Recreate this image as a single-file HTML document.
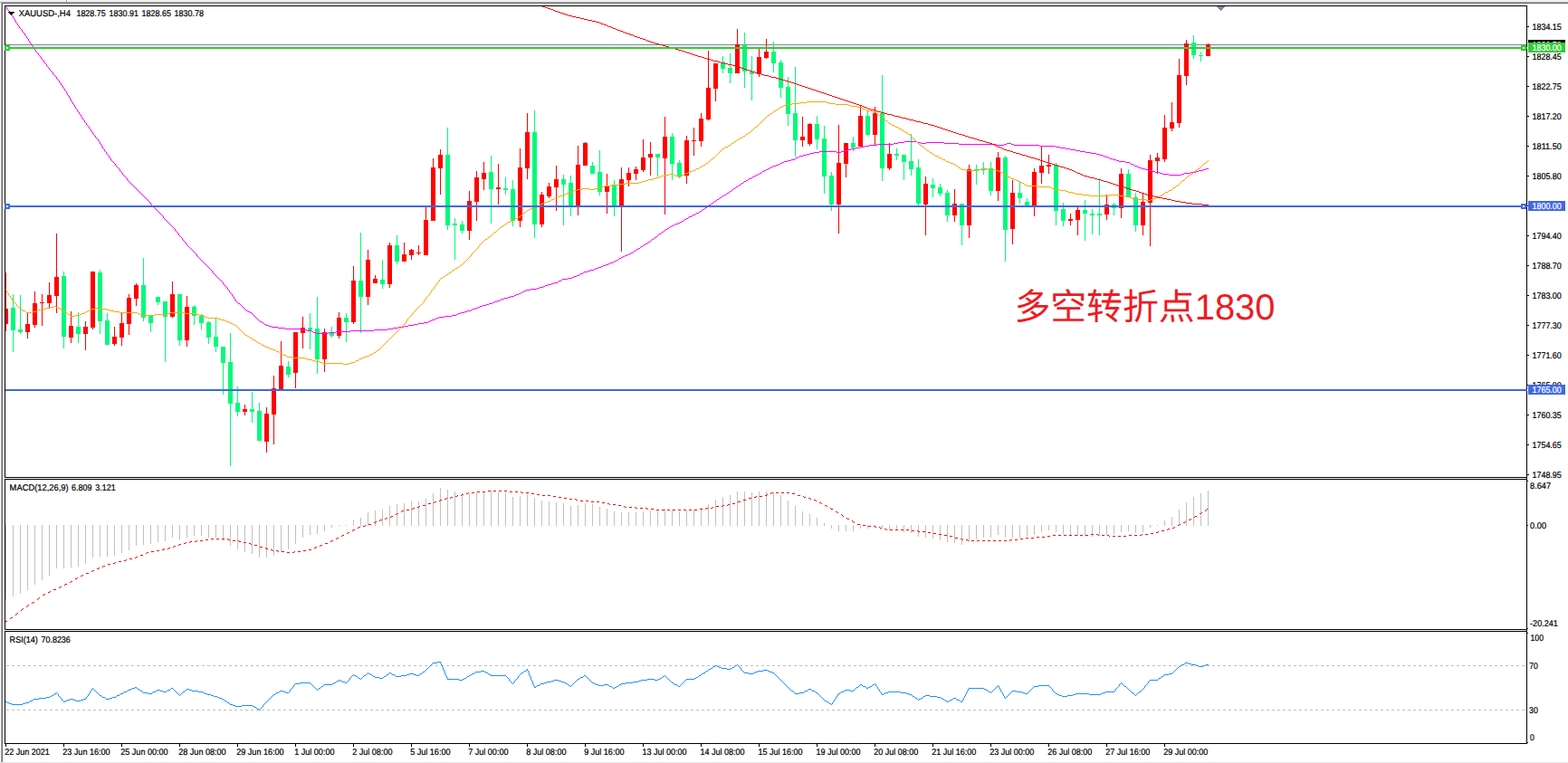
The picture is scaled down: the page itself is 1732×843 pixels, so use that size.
<!DOCTYPE html>
<html><head><meta charset="utf-8"><title>XAUUSD H4</title>
<style>html,body{margin:0;padding:0;background:#fff;overflow:hidden}svg{display:block}text{font-family:"Liberation Sans",sans-serif;font-size:9.8px;fill:#000;stroke:#000;stroke-width:0.22px;text-rendering:geometricPrecision}</style>
</head><body>
<svg width="1732" height="843" viewBox="0 0 1732 843">
<rect x="0" y="0" width="1732" height="843" fill="#fff"/>
<g shape-rendering="crispEdges">
<rect x="0" y="0" width="1732" height="2" fill="#f0f0f0"/>
<rect x="0" y="2" width="1732" height="1" fill="#a8a8a8"/>
<rect x="2" y="3" width="1730" height="1" fill="#696969"/>
<rect x="73" y="0" width="1" height="2" fill="#a0a0a0"/>
<rect x="74" y="0" width="1" height="2" fill="#ffffff"/>
<rect x="0" y="3" width="1" height="839" fill="#fcfcfc"/>
<rect x="1" y="3" width="1" height="839" fill="#a8a8a8"/>
<rect x="2" y="3" width="1" height="839" fill="#696969"/>
<rect x="0" y="842" width="1732" height="1" fill="#e6e6e6"/>
<rect x="5" y="6" width="1682" height="1" fill="#000"/>
<rect x="5" y="6" width="1" height="522" fill="#000"/>
<rect x="5" y="527" width="1682" height="1" fill="#000"/>
<rect x="1686" y="6" width="1" height="816" fill="#000"/>
<rect x="5" y="529" width="1682" height="1" fill="#000"/>
<rect x="5" y="529" width="1" height="167" fill="#000"/>
<rect x="5" y="695" width="1682" height="1" fill="#000"/>
<rect x="5" y="697" width="1682" height="1" fill="#000"/>
<rect x="5" y="697" width="1" height="125" fill="#000"/>
<rect x="5" y="821" width="1682" height="1" fill="#000"/>
</g>
<defs><clipPath id="cm"><rect x="6" y="7" width="1681" height="520"/></clipPath><clipPath id="cd"><rect x="6" y="530" width="1680" height="165"/></clipPath><clipPath id="cr"><rect x="6" y="698" width="1680" height="123"/></clipPath></defs>
<g clip-path="url(#cm)" shape-rendering="crispEdges">
<rect x="6" y="49" width="1680" height="1" fill="#778899"/>
<rect x="6" y="301" width="1" height="65" fill="#ff0000"/>
<rect x="4" y="341" width="5" height="17" fill="#ff0000"/>
<rect x="14" y="325" width="1" height="64" fill="#00fa7a"/>
<rect x="12" y="340" width="5" height="25" fill="#00fa7a"/>
<rect x="22" y="326" width="1" height="43" fill="#00fa7a"/>
<rect x="20" y="364" width="5" height="3" fill="#00fa7a"/>
<rect x="30" y="346" width="1" height="28" fill="#ff0000"/>
<rect x="28" y="358" width="5" height="9" fill="#ff0000"/>
<rect x="38" y="322" width="1" height="40" fill="#ff0000"/>
<rect x="36" y="335" width="5" height="24" fill="#ff0000"/>
<rect x="46" y="325" width="1" height="35" fill="#ff0000"/>
<rect x="44" y="334" width="5" height="1" fill="#ff0000"/>
<rect x="54" y="312" width="1" height="28" fill="#ff0000"/>
<rect x="52" y="326" width="5" height="9" fill="#ff0000"/>
<rect x="62" y="258" width="1" height="88" fill="#ff0000"/>
<rect x="60" y="306" width="5" height="21" fill="#ff0000"/>
<rect x="70" y="300" width="1" height="85" fill="#00fa7a"/>
<rect x="68" y="305" width="5" height="67" fill="#00fa7a"/>
<rect x="78" y="344" width="1" height="35" fill="#ff0000"/>
<rect x="76" y="360" width="5" height="13" fill="#ff0000"/>
<rect x="86" y="345" width="1" height="34" fill="#00fa7a"/>
<rect x="84" y="361" width="5" height="8" fill="#00fa7a"/>
<rect x="94" y="355" width="1" height="32" fill="#ff0000"/>
<rect x="92" y="361" width="5" height="8" fill="#ff0000"/>
<rect x="102" y="300" width="1" height="64" fill="#ff0000"/>
<rect x="100" y="300" width="5" height="62" fill="#ff0000"/>
<rect x="110" y="298" width="1" height="71" fill="#00fa7a"/>
<rect x="108" y="301" width="5" height="54" fill="#00fa7a"/>
<rect x="118" y="346" width="1" height="35" fill="#00fa7a"/>
<rect x="116" y="354" width="5" height="27" fill="#00fa7a"/>
<rect x="126" y="361" width="1" height="21" fill="#ff0000"/>
<rect x="124" y="372" width="5" height="8" fill="#ff0000"/>
<rect x="134" y="346" width="1" height="36" fill="#ff0000"/>
<rect x="132" y="357" width="5" height="16" fill="#ff0000"/>
<rect x="142" y="325" width="1" height="45" fill="#ff0000"/>
<rect x="140" y="329" width="5" height="29" fill="#ff0000"/>
<rect x="150" y="313" width="1" height="25" fill="#ff0000"/>
<rect x="148" y="315" width="5" height="15" fill="#ff0000"/>
<rect x="158" y="285" width="1" height="70" fill="#00fa7a"/>
<rect x="156" y="315" width="5" height="36" fill="#00fa7a"/>
<rect x="166" y="349" width="1" height="18" fill="#00fa7a"/>
<rect x="164" y="349" width="5" height="8" fill="#00fa7a"/>
<rect x="174" y="328" width="1" height="9" fill="#00fa7a"/>
<rect x="172" y="328" width="5" height="6" fill="#00fa7a"/>
<rect x="182" y="333" width="1" height="67" fill="#00fa7a"/>
<rect x="180" y="333" width="5" height="17" fill="#00fa7a"/>
<rect x="190" y="311" width="1" height="40" fill="#ff0000"/>
<rect x="188" y="325" width="5" height="25" fill="#ff0000"/>
<rect x="198" y="325" width="1" height="57" fill="#00fa7a"/>
<rect x="196" y="325" width="5" height="51" fill="#00fa7a"/>
<rect x="206" y="327" width="1" height="56" fill="#ff0000"/>
<rect x="204" y="339" width="5" height="37" fill="#ff0000"/>
<rect x="214" y="337" width="1" height="22" fill="#00fa7a"/>
<rect x="212" y="339" width="5" height="10" fill="#00fa7a"/>
<rect x="222" y="347" width="1" height="17" fill="#00fa7a"/>
<rect x="220" y="348" width="5" height="9" fill="#00fa7a"/>
<rect x="230" y="355" width="1" height="25" fill="#00fa7a"/>
<rect x="228" y="356" width="5" height="17" fill="#00fa7a"/>
<rect x="238" y="352" width="1" height="37" fill="#00fa7a"/>
<rect x="236" y="372" width="5" height="11" fill="#00fa7a"/>
<rect x="246" y="383" width="1" height="53" fill="#00fa7a"/>
<rect x="244" y="383" width="5" height="18" fill="#00fa7a"/>
<rect x="254" y="368" width="1" height="147" fill="#00fa7a"/>
<rect x="252" y="400" width="5" height="46" fill="#00fa7a"/>
<rect x="262" y="427" width="1" height="33" fill="#00fa7a"/>
<rect x="260" y="445" width="5" height="10" fill="#00fa7a"/>
<rect x="270" y="447" width="1" height="12" fill="#ff0000"/>
<rect x="268" y="452" width="5" height="3" fill="#ff0000"/>
<rect x="278" y="433" width="1" height="34" fill="#00fa7a"/>
<rect x="276" y="452" width="5" height="3" fill="#00fa7a"/>
<rect x="286" y="445" width="1" height="42" fill="#00fa7a"/>
<rect x="284" y="454" width="5" height="33" fill="#00fa7a"/>
<rect x="294" y="450" width="1" height="50" fill="#ff0000"/>
<rect x="292" y="457" width="5" height="31" fill="#ff0000"/>
<rect x="302" y="415" width="1" height="76" fill="#ff0000"/>
<rect x="300" y="429" width="5" height="29" fill="#ff0000"/>
<rect x="310" y="377" width="1" height="53" fill="#ff0000"/>
<rect x="308" y="404" width="5" height="26" fill="#ff0000"/>
<rect x="318" y="399" width="1" height="18" fill="#00fa7a"/>
<rect x="316" y="405" width="5" height="9" fill="#00fa7a"/>
<rect x="326" y="367" width="1" height="62" fill="#ff0000"/>
<rect x="324" y="367" width="5" height="45" fill="#ff0000"/>
<rect x="334" y="350" width="1" height="35" fill="#ff0000"/>
<rect x="332" y="362" width="5" height="6" fill="#ff0000"/>
<rect x="342" y="346" width="1" height="40" fill="#00fa7a"/>
<rect x="340" y="362" width="5" height="3" fill="#00fa7a"/>
<rect x="350" y="328" width="1" height="85" fill="#00fa7a"/>
<rect x="348" y="363" width="5" height="34" fill="#00fa7a"/>
<rect x="358" y="363" width="1" height="48" fill="#ff0000"/>
<rect x="356" y="367" width="5" height="30" fill="#ff0000"/>
<rect x="366" y="361" width="1" height="12" fill="#00fa7a"/>
<rect x="364" y="368" width="5" height="3" fill="#00fa7a"/>
<rect x="374" y="345" width="1" height="29" fill="#ff0000"/>
<rect x="372" y="351" width="5" height="20" fill="#ff0000"/>
<rect x="382" y="346" width="1" height="32" fill="#00fa7a"/>
<rect x="380" y="351" width="5" height="5" fill="#00fa7a"/>
<rect x="390" y="294" width="1" height="64" fill="#ff0000"/>
<rect x="388" y="310" width="5" height="46" fill="#ff0000"/>
<rect x="398" y="257" width="1" height="111" fill="#00fa7a"/>
<rect x="396" y="310" width="5" height="18" fill="#00fa7a"/>
<rect x="406" y="276" width="1" height="61" fill="#ff0000"/>
<rect x="404" y="287" width="5" height="41" fill="#ff0000"/>
<rect x="414" y="304" width="1" height="9" fill="#ff0000"/>
<rect x="412" y="308" width="5" height="5" fill="#ff0000"/>
<rect x="422" y="287" width="1" height="32" fill="#00fa7a"/>
<rect x="420" y="309" width="5" height="5" fill="#00fa7a"/>
<rect x="430" y="268" width="1" height="50" fill="#ff0000"/>
<rect x="428" y="271" width="5" height="43" fill="#ff0000"/>
<rect x="438" y="260" width="1" height="32" fill="#00fa7a"/>
<rect x="436" y="271" width="5" height="18" fill="#00fa7a"/>
<rect x="446" y="268" width="1" height="21" fill="#ff0000"/>
<rect x="444" y="281" width="5" height="8" fill="#ff0000"/>
<rect x="454" y="275" width="1" height="12" fill="#ff0000"/>
<rect x="452" y="276" width="5" height="6" fill="#ff0000"/>
<rect x="462" y="271" width="1" height="11" fill="#ff0000"/>
<rect x="460" y="279" width="5" height="1" fill="#ff0000"/>
<rect x="470" y="229" width="1" height="53" fill="#ff0000"/>
<rect x="468" y="243" width="5" height="39" fill="#ff0000"/>
<rect x="478" y="175" width="1" height="69" fill="#ff0000"/>
<rect x="476" y="185" width="5" height="59" fill="#ff0000"/>
<rect x="486" y="165" width="1" height="50" fill="#ff0000"/>
<rect x="484" y="171" width="5" height="15" fill="#ff0000"/>
<rect x="494" y="141" width="1" height="113" fill="#00fa7a"/>
<rect x="492" y="171" width="5" height="78" fill="#00fa7a"/>
<rect x="502" y="241" width="1" height="46" fill="#00fa7a"/>
<rect x="500" y="247" width="5" height="2" fill="#00fa7a"/>
<rect x="510" y="244" width="1" height="14" fill="#00fa7a"/>
<rect x="508" y="248" width="5" height="7" fill="#00fa7a"/>
<rect x="518" y="211" width="1" height="54" fill="#ff0000"/>
<rect x="516" y="222" width="5" height="33" fill="#ff0000"/>
<rect x="526" y="189" width="1" height="55" fill="#ff0000"/>
<rect x="524" y="196" width="5" height="27" fill="#ff0000"/>
<rect x="534" y="179" width="1" height="31" fill="#ff0000"/>
<rect x="532" y="191" width="5" height="7" fill="#ff0000"/>
<rect x="542" y="172" width="1" height="75" fill="#00fa7a"/>
<rect x="540" y="190" width="5" height="19" fill="#00fa7a"/>
<rect x="550" y="181" width="1" height="45" fill="#ff0000"/>
<rect x="548" y="207" width="5" height="2" fill="#ff0000"/>
<rect x="558" y="196" width="1" height="19" fill="#00fa7a"/>
<rect x="556" y="208" width="5" height="2" fill="#00fa7a"/>
<rect x="566" y="199" width="1" height="51" fill="#00fa7a"/>
<rect x="564" y="209" width="5" height="35" fill="#00fa7a"/>
<rect x="574" y="164" width="1" height="87" fill="#ff0000"/>
<rect x="572" y="185" width="5" height="59" fill="#ff0000"/>
<rect x="582" y="125" width="1" height="73" fill="#ff0000"/>
<rect x="580" y="146" width="5" height="40" fill="#ff0000"/>
<rect x="590" y="122" width="1" height="141" fill="#00fa7a"/>
<rect x="588" y="146" width="5" height="102" fill="#00fa7a"/>
<rect x="598" y="212" width="1" height="39" fill="#ff0000"/>
<rect x="596" y="215" width="5" height="33" fill="#ff0000"/>
<rect x="606" y="202" width="1" height="17" fill="#ff0000"/>
<rect x="604" y="206" width="5" height="11" fill="#ff0000"/>
<rect x="614" y="183" width="1" height="50" fill="#ff0000"/>
<rect x="612" y="198" width="5" height="9" fill="#ff0000"/>
<rect x="622" y="193" width="1" height="56" fill="#00fa7a"/>
<rect x="620" y="198" width="5" height="6" fill="#00fa7a"/>
<rect x="630" y="194" width="1" height="45" fill="#00fa7a"/>
<rect x="628" y="202" width="5" height="25" fill="#00fa7a"/>
<rect x="638" y="161" width="1" height="77" fill="#ff0000"/>
<rect x="636" y="182" width="5" height="45" fill="#ff0000"/>
<rect x="646" y="157" width="1" height="26" fill="#ff0000"/>
<rect x="644" y="158" width="5" height="25" fill="#ff0000"/>
<rect x="654" y="179" width="1" height="13" fill="#00fa7a"/>
<rect x="652" y="183" width="5" height="9" fill="#00fa7a"/>
<rect x="662" y="166" width="1" height="50" fill="#00fa7a"/>
<rect x="660" y="190" width="5" height="22" fill="#00fa7a"/>
<rect x="670" y="192" width="1" height="44" fill="#ff0000"/>
<rect x="668" y="206" width="5" height="6" fill="#ff0000"/>
<rect x="678" y="199" width="1" height="40" fill="#00fa7a"/>
<rect x="676" y="205" width="5" height="22" fill="#00fa7a"/>
<rect x="686" y="185" width="1" height="93" fill="#ff0000"/>
<rect x="684" y="198" width="5" height="29" fill="#ff0000"/>
<rect x="694" y="185" width="1" height="21" fill="#ff0000"/>
<rect x="692" y="191" width="5" height="8" fill="#ff0000"/>
<rect x="702" y="184" width="1" height="15" fill="#ff0000"/>
<rect x="700" y="187" width="5" height="5" fill="#ff0000"/>
<rect x="710" y="154" width="1" height="36" fill="#ff0000"/>
<rect x="708" y="174" width="5" height="14" fill="#ff0000"/>
<rect x="718" y="157" width="1" height="37" fill="#ff0000"/>
<rect x="716" y="170" width="5" height="4" fill="#ff0000"/>
<rect x="726" y="170" width="1" height="25" fill="#00fa7a"/>
<rect x="724" y="170" width="5" height="4" fill="#00fa7a"/>
<rect x="734" y="129" width="1" height="108" fill="#ff0000"/>
<rect x="732" y="151" width="5" height="24" fill="#ff0000"/>
<rect x="742" y="147" width="1" height="52" fill="#00fa7a"/>
<rect x="740" y="151" width="5" height="30" fill="#00fa7a"/>
<rect x="750" y="177" width="1" height="20" fill="#00fa7a"/>
<rect x="748" y="180" width="5" height="15" fill="#00fa7a"/>
<rect x="758" y="150" width="1" height="53" fill="#ff0000"/>
<rect x="756" y="155" width="5" height="39" fill="#ff0000"/>
<rect x="766" y="141" width="1" height="31" fill="#ff0000"/>
<rect x="764" y="155" width="5" height="1" fill="#ff0000"/>
<rect x="774" y="125" width="1" height="37" fill="#ff0000"/>
<rect x="772" y="131" width="5" height="25" fill="#ff0000"/>
<rect x="782" y="56" width="1" height="77" fill="#ff0000"/>
<rect x="780" y="97" width="5" height="35" fill="#ff0000"/>
<rect x="790" y="70" width="1" height="42" fill="#ff0000"/>
<rect x="788" y="70" width="5" height="28" fill="#ff0000"/>
<rect x="798" y="62" width="1" height="19" fill="#00fa7a"/>
<rect x="796" y="70" width="5" height="6" fill="#00fa7a"/>
<rect x="806" y="59" width="1" height="33" fill="#00fa7a"/>
<rect x="804" y="75" width="5" height="6" fill="#00fa7a"/>
<rect x="814" y="32" width="1" height="49" fill="#ff0000"/>
<rect x="812" y="49" width="5" height="32" fill="#ff0000"/>
<rect x="822" y="36" width="1" height="61" fill="#00fa7a"/>
<rect x="820" y="50" width="5" height="29" fill="#00fa7a"/>
<rect x="830" y="62" width="1" height="49" fill="#00fa7a"/>
<rect x="828" y="79" width="5" height="3" fill="#00fa7a"/>
<rect x="838" y="54" width="1" height="31" fill="#ff0000"/>
<rect x="836" y="63" width="5" height="19" fill="#ff0000"/>
<rect x="846" y="43" width="1" height="22" fill="#ff0000"/>
<rect x="844" y="57" width="5" height="7" fill="#ff0000"/>
<rect x="854" y="46" width="1" height="34" fill="#00fa7a"/>
<rect x="852" y="57" width="5" height="13" fill="#00fa7a"/>
<rect x="862" y="66" width="1" height="42" fill="#00fa7a"/>
<rect x="860" y="69" width="5" height="28" fill="#00fa7a"/>
<rect x="870" y="85" width="1" height="54" fill="#00fa7a"/>
<rect x="868" y="96" width="5" height="30" fill="#00fa7a"/>
<rect x="878" y="74" width="1" height="99" fill="#00fa7a"/>
<rect x="876" y="125" width="5" height="30" fill="#00fa7a"/>
<rect x="886" y="129" width="1" height="33" fill="#ff0000"/>
<rect x="884" y="151" width="5" height="4" fill="#ff0000"/>
<rect x="894" y="136" width="1" height="25" fill="#ff0000"/>
<rect x="892" y="137" width="5" height="22" fill="#ff0000"/>
<rect x="902" y="128" width="1" height="37" fill="#00fa7a"/>
<rect x="900" y="137" width="5" height="17" fill="#00fa7a"/>
<rect x="910" y="139" width="1" height="75" fill="#00fa7a"/>
<rect x="908" y="153" width="5" height="42" fill="#00fa7a"/>
<rect x="918" y="190" width="1" height="43" fill="#00fa7a"/>
<rect x="916" y="194" width="5" height="32" fill="#00fa7a"/>
<rect x="926" y="138" width="1" height="120" fill="#ff0000"/>
<rect x="924" y="180" width="5" height="46" fill="#ff0000"/>
<rect x="934" y="158" width="1" height="38" fill="#ff0000"/>
<rect x="932" y="158" width="5" height="23" fill="#ff0000"/>
<rect x="942" y="151" width="1" height="16" fill="#00fa7a"/>
<rect x="940" y="158" width="5" height="5" fill="#00fa7a"/>
<rect x="950" y="116" width="1" height="46" fill="#ff0000"/>
<rect x="948" y="128" width="5" height="34" fill="#ff0000"/>
<rect x="958" y="123" width="1" height="27" fill="#00fa7a"/>
<rect x="956" y="128" width="5" height="21" fill="#00fa7a"/>
<rect x="966" y="118" width="1" height="43" fill="#ff0000"/>
<rect x="964" y="125" width="5" height="24" fill="#ff0000"/>
<rect x="974" y="83" width="1" height="117" fill="#00fa7a"/>
<rect x="972" y="125" width="5" height="61" fill="#00fa7a"/>
<rect x="982" y="158" width="1" height="30" fill="#ff0000"/>
<rect x="980" y="170" width="5" height="16" fill="#ff0000"/>
<rect x="990" y="164" width="1" height="13" fill="#00fa7a"/>
<rect x="988" y="170" width="5" height="2" fill="#00fa7a"/>
<rect x="998" y="171" width="1" height="28" fill="#00fa7a"/>
<rect x="996" y="171" width="5" height="8" fill="#00fa7a"/>
<rect x="1006" y="148" width="1" height="46" fill="#00fa7a"/>
<rect x="1004" y="178" width="5" height="9" fill="#00fa7a"/>
<rect x="1014" y="176" width="1" height="51" fill="#00fa7a"/>
<rect x="1012" y="185" width="5" height="40" fill="#00fa7a"/>
<rect x="1022" y="195" width="1" height="65" fill="#ff0000"/>
<rect x="1020" y="203" width="5" height="23" fill="#ff0000"/>
<rect x="1030" y="197" width="1" height="21" fill="#00fa7a"/>
<rect x="1028" y="204" width="5" height="4" fill="#00fa7a"/>
<rect x="1038" y="203" width="1" height="14" fill="#00fa7a"/>
<rect x="1036" y="207" width="5" height="7" fill="#00fa7a"/>
<rect x="1046" y="210" width="1" height="35" fill="#00fa7a"/>
<rect x="1044" y="213" width="5" height="25" fill="#00fa7a"/>
<rect x="1054" y="209" width="1" height="36" fill="#ff0000"/>
<rect x="1052" y="225" width="5" height="13" fill="#ff0000"/>
<rect x="1062" y="225" width="1" height="46" fill="#00fa7a"/>
<rect x="1060" y="225" width="5" height="24" fill="#00fa7a"/>
<rect x="1070" y="182" width="1" height="81" fill="#ff0000"/>
<rect x="1068" y="187" width="5" height="62" fill="#ff0000"/>
<rect x="1078" y="182" width="1" height="22" fill="#00fa7a"/>
<rect x="1076" y="187" width="5" height="2" fill="#00fa7a"/>
<rect x="1086" y="179" width="1" height="14" fill="#00fa7a"/>
<rect x="1084" y="186" width="5" height="2" fill="#00fa7a"/>
<rect x="1094" y="179" width="1" height="37" fill="#00fa7a"/>
<rect x="1092" y="186" width="5" height="25" fill="#00fa7a"/>
<rect x="1102" y="168" width="1" height="54" fill="#ff0000"/>
<rect x="1100" y="174" width="5" height="37" fill="#ff0000"/>
<rect x="1110" y="172" width="1" height="117" fill="#00fa7a"/>
<rect x="1108" y="174" width="5" height="80" fill="#00fa7a"/>
<rect x="1118" y="199" width="1" height="71" fill="#ff0000"/>
<rect x="1116" y="213" width="5" height="40" fill="#ff0000"/>
<rect x="1126" y="201" width="1" height="24" fill="#00fa7a"/>
<rect x="1124" y="213" width="5" height="6" fill="#00fa7a"/>
<rect x="1134" y="219" width="1" height="8" fill="#00fa7a"/>
<rect x="1132" y="223" width="5" height="4" fill="#00fa7a"/>
<rect x="1142" y="186" width="1" height="53" fill="#ff0000"/>
<rect x="1140" y="190" width="5" height="37" fill="#ff0000"/>
<rect x="1150" y="162" width="1" height="41" fill="#ff0000"/>
<rect x="1148" y="183" width="5" height="8" fill="#ff0000"/>
<rect x="1158" y="171" width="1" height="21" fill="#ff0000"/>
<rect x="1156" y="182" width="5" height="2" fill="#ff0000"/>
<rect x="1166" y="180" width="1" height="69" fill="#00fa7a"/>
<rect x="1164" y="182" width="5" height="51" fill="#00fa7a"/>
<rect x="1174" y="224" width="1" height="26" fill="#00fa7a"/>
<rect x="1172" y="231" width="5" height="13" fill="#00fa7a"/>
<rect x="1182" y="236" width="1" height="13" fill="#ff0000"/>
<rect x="1180" y="242" width="5" height="2" fill="#ff0000"/>
<rect x="1190" y="229" width="1" height="31" fill="#ff0000"/>
<rect x="1188" y="232" width="5" height="11" fill="#ff0000"/>
<rect x="1198" y="221" width="1" height="45" fill="#00fa7a"/>
<rect x="1196" y="232" width="5" height="4" fill="#00fa7a"/>
<rect x="1206" y="231" width="1" height="28" fill="#00fa7a"/>
<rect x="1204" y="236" width="5" height="2" fill="#00fa7a"/>
<rect x="1214" y="199" width="1" height="61" fill="#00fa7a"/>
<rect x="1212" y="236" width="5" height="2" fill="#00fa7a"/>
<rect x="1222" y="215" width="1" height="28" fill="#ff0000"/>
<rect x="1220" y="226" width="5" height="11" fill="#ff0000"/>
<rect x="1230" y="224" width="1" height="14" fill="#00fa7a"/>
<rect x="1228" y="226" width="5" height="4" fill="#00fa7a"/>
<rect x="1238" y="186" width="1" height="55" fill="#ff0000"/>
<rect x="1236" y="192" width="5" height="38" fill="#ff0000"/>
<rect x="1246" y="187" width="1" height="31" fill="#00fa7a"/>
<rect x="1244" y="192" width="5" height="26" fill="#00fa7a"/>
<rect x="1254" y="213" width="1" height="43" fill="#00fa7a"/>
<rect x="1252" y="218" width="5" height="31" fill="#00fa7a"/>
<rect x="1262" y="214" width="1" height="46" fill="#ff0000"/>
<rect x="1260" y="223" width="5" height="26" fill="#ff0000"/>
<rect x="1270" y="171" width="1" height="101" fill="#ff0000"/>
<rect x="1268" y="177" width="5" height="47" fill="#ff0000"/>
<rect x="1278" y="169" width="1" height="23" fill="#ff0000"/>
<rect x="1276" y="174" width="5" height="4" fill="#ff0000"/>
<rect x="1286" y="127" width="1" height="52" fill="#ff0000"/>
<rect x="1284" y="141" width="5" height="35" fill="#ff0000"/>
<rect x="1294" y="113" width="1" height="32" fill="#ff0000"/>
<rect x="1292" y="135" width="5" height="7" fill="#ff0000"/>
<rect x="1302" y="65" width="1" height="76" fill="#ff0000"/>
<rect x="1300" y="83" width="5" height="53" fill="#ff0000"/>
<rect x="1310" y="44" width="1" height="50" fill="#ff0000"/>
<rect x="1308" y="48" width="5" height="36" fill="#ff0000"/>
<rect x="1318" y="39" width="1" height="26" fill="#00fa7a"/>
<rect x="1316" y="47" width="5" height="14" fill="#00fa7a"/>
<rect x="1326" y="57" width="1" height="11" fill="#00fa7a"/>
<rect x="1324" y="61" width="5" height="1" fill="#00fa7a"/>
<rect x="1334" y="48" width="1" height="14" fill="#ff0000"/>
<rect x="1332" y="49" width="5" height="13" fill="#ff0000"/>
</g>
<g clip-path="url(#cm)">
<path d="M6.5 6v2M7.5 8v2M10.5 12v2M12.5 15v2M14.5 18v2M16.5 21v2M17.5 23v2M19.5 26v2M21.5 29v2M24.5 33v2M27.5 37v2M29.5 40v2M31.5 43v2M32.5 45v2M34.5 48v2M37.5 52v2M39.5 55v2M42.5 59v2M45.5 63v2M48.5 67v2M51.5 71v2M54.5 75v2M58.5 80v2M62.5 85v2M65.5 89v2M67.5 92v2M69.5 95v2M71.5 98v2M73.5 101v2M74.5 103v2M76.5 106v2M77.5 108v2M78.5 110v2M80.5 113v2M82.5 116v2M83.5 118v2M85.5 121v2M87.5 124v2M89.5 127v2M91.5 130v2M93.5 133v2M95.5 136v2M98.5 140v2M100.5 143v2M102.5 146v2M105.5 150v2M108.5 154v2M110.5 157v2M112.5 160v2M113.5 162v2M115.5 165v2M117.5 168v2M120.5 172v2M122.5 175v2M127.5 181v2M132.5 187v2M135.5 191v2M140.5 197v2M166.5 224v2M180.5 239v2M193.5 253v2M197.5 258v2M201.5 263v2M205.5 268v2M217.5 281v2M234.5 299v2M246.5 312v2M251.5 318v2M253.5 321v2M256.5 325v2M258.5 328v2M260.5 331v2M8 10.5h1M9 11.5h1M11 14.5h1M13 17.5h1M15 20.5h1M18 25.5h1M20 28.5h1M22 31.5h1M23 32.5h1M25 35.5h1M26 36.5h1M28 39.5h1M30 42.5h1M33 47.5h1M35 50.5h1M36 51.5h1M38 54.5h1M40 57.5h1M41 58.5h1M43 61.5h1M44 62.5h1M46 65.5h1M47 66.5h1M49 69.5h1M50 70.5h1M52 73.5h1M53 74.5h1M55 77.5h1M56 78.5h1M57 79.5h1M59 82.5h1M60 83.5h1M61 84.5h1M63 87.5h1M64 88.5h1M66 91.5h1M68 94.5h1M70 97.5h1M72 100.5h1M75 105.5h1M79 112.5h1M81 115.5h1M84 120.5h1M86 123.5h1M88 126.5h1M90 129.5h1M92 132.5h1M94 135.5h1M96 138.5h1M97 139.5h1M99 142.5h1M101 145.5h1M103 148.5h1M104 149.5h1M106 152.5h1M107 153.5h1M109 156.5h1M999 156.5h14M992 157.5h7M1013 157.5h4M1023 157.5h20M987 158.5h5M1017 158.5h6M1043 158.5h16M1112 158.5h5M111 159.5h1M969 159.5h18M1059 159.5h42M1109 159.5h3M1117 159.5h3M960 160.5h9M1101 160.5h8M1120 160.5h28M955 161.5h5M1148 161.5h18M950 162.5h5M1166 162.5h5M945 163.5h5M1171 163.5h6M114 164.5h1M940 164.5h5M1177 164.5h5M937 165.5h3M1182 165.5h6M932 166.5h5M1188 166.5h5M116 167.5h1M905 167.5h19M929 167.5h3M1193 167.5h6M899 168.5h6M924 168.5h5M1199 168.5h6M895 169.5h4M1205 169.5h6M118 170.5h1M891 170.5h4M1211 170.5h4M119 171.5h1M887 171.5h4M1215 171.5h3M883 172.5h4M1218 172.5h3M882 173.5h1M1221 173.5h3M121 174.5h1M879 174.5h3M1224 174.5h2M878 175.5h1M1226 175.5h3M874 176.5h4M1229 176.5h4M123 177.5h1M870 177.5h4M1233 177.5h3M124 178.5h1M866 178.5h4M1236 178.5h7M125 179.5h1M864 179.5h2M1243 179.5h5M126 180.5h1M862 180.5h2M1248 180.5h1M860 181.5h2M1249 181.5h3M857 182.5h3M1252 182.5h1M128 183.5h1M854 183.5h3M1253 183.5h3M129 184.5h1M852 184.5h2M1256 184.5h2M130 185.5h1M850 185.5h2M1258 185.5h3M131 186.5h1M848 186.5h2M1261 186.5h4M1332 186.5h3M846 187.5h2M1265 187.5h3M1329 187.5h3M844 188.5h2M1268 188.5h5M1324 188.5h5M133 189.5h1M842 189.5h2M1273 189.5h3M1321 189.5h3M134 190.5h1M841 190.5h1M1276 190.5h5M1315 190.5h6M839 191.5h2M1281 191.5h3M1308 191.5h7M837 192.5h2M1284 192.5h7M1305 192.5h3M136 193.5h1M835 193.5h2M1291 193.5h14M137 194.5h1M833 194.5h2M138 195.5h1M831 195.5h2M139 196.5h1M830 196.5h1M827 197.5h3M826 198.5h1M141 199.5h1M824 199.5h2M142 200.5h1M822 200.5h2M143 201.5h1M821 201.5h1M144 202.5h1M819 202.5h2M145 203.5h1M818 203.5h1M146 204.5h1M816 204.5h2M147 205.5h1M815 205.5h1M148 206.5h1M813 206.5h2M149 207.5h1M812 207.5h1M150 208.5h1M810 208.5h2M151 209.5h1M809 209.5h1M152 210.5h1M808 210.5h1M153 211.5h1M806 211.5h2M154 212.5h1M805 212.5h1M155 213.5h1M803 213.5h2M156 214.5h1M802 214.5h1M157 215.5h1M800 215.5h2M158 216.5h1M798 216.5h2M159 217.5h1M797 217.5h1M160 218.5h1M795 218.5h2M161 219.5h1M794 219.5h1M162 220.5h1M792 220.5h2M163 221.5h1M791 221.5h1M164 222.5h1M789 222.5h2M165 223.5h1M788 223.5h1M786 224.5h2M785 225.5h1M167 226.5h1M783 226.5h2M168 227.5h1M782 227.5h1M169 228.5h1M781 228.5h1M170 229.5h1M779 229.5h2M171 230.5h1M778 230.5h1M172 231.5h1M776 231.5h2M173 232.5h1M775 232.5h1M174 233.5h1M773 233.5h2M175 234.5h1M772 234.5h1M176 235.5h1M769 235.5h3M177 236.5h1M768 236.5h1M178 237.5h1M765 237.5h3M179 238.5h1M764 238.5h1M761 239.5h3M760 240.5h1M181 241.5h1M758 241.5h2M182 242.5h1M756 242.5h2M183 243.5h1M755 243.5h1M184 244.5h1M753 244.5h2M185 245.5h1M751 245.5h2M186 246.5h1M749 246.5h2M187 247.5h1M746 247.5h3M188 248.5h1M744 248.5h2M189 249.5h1M742 249.5h2M190 250.5h1M740 250.5h2M191 251.5h1M739 251.5h1M192 252.5h1M737 252.5h2M735 253.5h2M734 254.5h1M194 255.5h1M733 255.5h1M195 256.5h1M731 256.5h2M196 257.5h1M730 257.5h1M728 258.5h2M727 259.5h1M198 260.5h1M726 260.5h1M199 261.5h1M725 261.5h1M200 262.5h1M723 262.5h2M722 263.5h1M720 264.5h2M202 265.5h1M719 265.5h1M203 266.5h1M718 266.5h1M204 267.5h1M716 267.5h2M715 268.5h1M713 269.5h2M206 270.5h1M711 270.5h2M207 271.5h1M710 271.5h1M208 272.5h1M708 272.5h2M209 273.5h1M707 273.5h1M210 274.5h1M705 274.5h2M211 275.5h1M703 275.5h2M212 276.5h1M702 276.5h1M213 277.5h1M700 277.5h2M214 278.5h1M699 278.5h1M215 279.5h1M697 279.5h2M216 280.5h1M695 280.5h2M693 281.5h2M690 282.5h3M218 283.5h1M688 283.5h2M219 284.5h1M686 284.5h2M220 285.5h1M684 285.5h2M221 286.5h1M683 286.5h1M222 287.5h1M681 287.5h2M223 288.5h1M679 288.5h2M224 289.5h1M677 289.5h2M225 290.5h1M674 290.5h3M226 291.5h1M672 291.5h2M227 292.5h1M669 292.5h3M228 293.5h1M666 293.5h3M229 294.5h1M664 294.5h2M230 295.5h1M661 295.5h3M231 296.5h1M658 296.5h3M232 297.5h1M656 297.5h2M233 298.5h1M652 298.5h4M649 299.5h3M645 300.5h4M235 301.5h1M644 301.5h1M236 302.5h1M641 302.5h3M237 303.5h1M640 303.5h1M238 304.5h1M637 304.5h3M239 305.5h1M634 305.5h3M240 306.5h1M632 306.5h2M241 307.5h1M627 307.5h5M242 308.5h1M621 308.5h6M243 309.5h1M620 309.5h1M244 310.5h1M617 310.5h3M245 311.5h1M616 311.5h1M612 312.5h4M609 313.5h3M247 314.5h1M605 314.5h4M248 315.5h1M602 315.5h3M249 316.5h1M600 316.5h2M250 317.5h1M596 317.5h4M593 318.5h3M586 319.5h7M252 320.5h1M581 320.5h5M579 321.5h2M577 322.5h2M254 323.5h1M575 323.5h2M255 324.5h1M573 324.5h2M570 325.5h3M568 326.5h2M257 327.5h1M564 327.5h4M561 328.5h3M557 329.5h4M259 330.5h1M554 330.5h3M552 331.5h2M549 332.5h3M261 333.5h1M546 333.5h3M262 334.5h1M544 334.5h2M263 335.5h2M540 335.5h4M265 336.5h1M537 336.5h3M266 337.5h1M533 337.5h4M267 338.5h1M530 338.5h3M268 339.5h1M528 339.5h2M269 340.5h1M525 340.5h3M270 341.5h1M522 341.5h3M271 342.5h1M520 342.5h2M272 343.5h2M516 343.5h4M274 344.5h2M513 344.5h3M276 345.5h2M509 345.5h4M278 346.5h1M506 346.5h3M279 347.5h1M504 347.5h2M280 348.5h1M499 348.5h5M281 349.5h1M491 349.5h8M282 350.5h1M485 350.5h6M283 351.5h1M482 351.5h3M284 352.5h1M480 352.5h2M285 353.5h1M477 353.5h3M286 354.5h1M475 354.5h2M287 355.5h2M473 355.5h2M289 356.5h2M468 356.5h5M291 357.5h1M462 357.5h6M292 358.5h2M457 358.5h5M294 359.5h3M451 359.5h6M297 360.5h3M446 360.5h5M300 361.5h7M440 361.5h6M307 362.5h8M434 362.5h6M315 363.5h18M428 363.5h6M333 364.5h6M413 364.5h15M339 365.5h5M387 365.5h26M344 366.5h2M371 366.5h16M346 367.5h3M363 367.5h8M349 368.5h14" fill="none" stroke="#ff00ff" stroke-width="1" shape-rendering="crispEdges"/>
<path d="M7.5 321v2M9.5 324v2M11.5 327v2M13.5 330v2M18.5 336v2M448.5 355v2M450.5 352v2M455.5 346v2M468.5 332v2M470.5 329v2M474.5 324v2M476.5 321v2M479.5 317v2M482.5 313v2M485.5 309v2M520.5 281v2M528.5 272v2M891 112.5h22M883 113.5h8M913 113.5h3M875 114.5h8M916 114.5h7M869 115.5h6M923 115.5h14M866 116.5h3M937 116.5h3M864 117.5h2M940 117.5h7M862 118.5h2M947 118.5h5M860 119.5h2M952 119.5h1M859 120.5h1M953 120.5h3M857 121.5h2M956 121.5h1M855 122.5h2M957 122.5h6M854 123.5h1M963 123.5h4M853 124.5h1M967 124.5h1M851 125.5h2M968 125.5h2M850 126.5h1M970 126.5h1M848 127.5h2M971 127.5h2M847 128.5h1M973 128.5h1M846 129.5h1M974 129.5h1M845 130.5h1M975 130.5h1M844 131.5h1M976 131.5h1M843 132.5h1M977 132.5h1M842 133.5h1M978 133.5h2M841 134.5h1M980 134.5h1M840 135.5h1M981 135.5h1M839 136.5h1M982 136.5h2M838 137.5h1M984 137.5h1M837 138.5h1M985 138.5h3M836 139.5h1M988 139.5h1M834 140.5h2M989 140.5h3M833 141.5h1M992 141.5h1M832 142.5h1M993 142.5h3M831 143.5h1M996 143.5h1M830 144.5h1M997 144.5h2M829 145.5h1M999 145.5h1M827 146.5h2M1000 146.5h2M826 147.5h1M1002 147.5h1M824 148.5h2M1003 148.5h2M823 149.5h1M1005 149.5h1M821 150.5h2M1006 150.5h1M820 151.5h1M1007 151.5h1M817 152.5h3M1008 152.5h1M816 153.5h1M1009 153.5h1M814 154.5h2M1010 154.5h1M813 155.5h1M1011 155.5h1M811 156.5h2M1012 156.5h1M810 157.5h1M1013 157.5h1M808 158.5h2M1014 158.5h1M807 159.5h1M1015 159.5h1M805 160.5h2M1016 160.5h2M804 161.5h1M1018 161.5h1M801 162.5h3M1019 162.5h2M800 163.5h1M1021 163.5h1M798 164.5h2M1022 164.5h1M797 165.5h1M1023 165.5h1M796 166.5h1M1024 166.5h2M795 167.5h1M1026 167.5h1M794 168.5h1M1027 168.5h2M793 169.5h1M1029 169.5h1M792 170.5h1M1030 170.5h2M791 171.5h1M1032 171.5h1M790 172.5h1M1033 172.5h3M789 173.5h1M1036 173.5h1M788 174.5h1M1037 174.5h3M786 175.5h2M1040 175.5h1M785 176.5h1M1041 176.5h3M784 177.5h1M1044 177.5h1M1334 177.5h1M783 178.5h1M1045 178.5h3M1333 178.5h1M782 179.5h1M1048 179.5h2M1332 179.5h1M780 180.5h2M1050 180.5h3M1330 180.5h2M779 181.5h1M1053 181.5h2M1329 181.5h1M777 182.5h2M1055 182.5h1M1328 182.5h1M775 183.5h2M1056 183.5h2M1327 183.5h1M773 184.5h2M1058 184.5h1M1326 184.5h1M772 185.5h1M1059 185.5h2M1325 185.5h1M769 186.5h3M1061 186.5h1M1084 186.5h7M1323 186.5h2M768 187.5h1M1062 187.5h5M1081 187.5h3M1091 187.5h8M1322 187.5h1M765 188.5h3M1067 188.5h14M1099 188.5h4M1320 188.5h2M762 189.5h3M1103 189.5h2M1319 189.5h1M760 190.5h2M1105 190.5h2M1318 190.5h1M757 191.5h3M1107 191.5h1M1317 191.5h1M739 192.5h5M756 192.5h1M1108 192.5h2M1315 192.5h2M733 193.5h6M744 193.5h2M753 193.5h3M1110 193.5h2M1314 193.5h1M730 194.5h3M746 194.5h3M752 194.5h1M1112 194.5h1M1312 194.5h2M728 195.5h2M749 195.5h3M1113 195.5h3M1311 195.5h1M724 196.5h4M1116 196.5h1M1310 196.5h1M721 197.5h3M1117 197.5h3M1309 197.5h1M716 198.5h5M1120 198.5h2M1308 198.5h1M713 199.5h3M1122 199.5h3M1306 199.5h2M709 200.5h4M1125 200.5h2M1305 200.5h1M706 201.5h3M1127 201.5h2M1304 201.5h1M691 202.5h15M1129 202.5h2M1303 202.5h1M683 203.5h8M1131 203.5h1M1302 203.5h1M675 204.5h8M1132 204.5h2M1301 204.5h1M668 205.5h7M1134 205.5h13M1299 205.5h2M665 206.5h3M1147 206.5h13M1298 206.5h1M660 207.5h5M1160 207.5h2M1296 207.5h2M643 208.5h8M657 208.5h3M1162 208.5h3M1295 208.5h1M637 209.5h6M651 209.5h6M1165 209.5h6M1294 209.5h1M634 210.5h3M1171 210.5h6M1291 210.5h3M632 211.5h2M1177 211.5h3M1290 211.5h1M629 212.5h3M1180 212.5h5M1287 212.5h3M626 213.5h3M1185 213.5h3M1286 213.5h1M624 214.5h2M1188 214.5h7M1284 214.5h2M621 215.5h3M1195 215.5h8M1225 215.5h12M1282 215.5h2M618 216.5h3M1203 216.5h22M1237 216.5h6M1281 216.5h1M616 217.5h2M1243 217.5h5M1279 217.5h2M613 218.5h3M1248 218.5h2M1277 218.5h2M612 219.5h1M1250 219.5h3M1274 219.5h3M609 220.5h3M1253 220.5h13M1271 220.5h3M608 221.5h1M1266 221.5h5M605 222.5h3M602 223.5h3M600 224.5h2M597 225.5h3M596 226.5h1M593 227.5h3M592 228.5h1M589 229.5h3M586 230.5h3M584 231.5h2M582 232.5h2M581 233.5h1M580 234.5h1M578 235.5h2M577 236.5h1M576 237.5h1M575 238.5h1M573 239.5h2M572 240.5h1M569 241.5h3M568 242.5h1M565 243.5h3M564 244.5h1M561 245.5h3M560 246.5h1M558 247.5h2M557 248.5h1M555 249.5h2M554 250.5h1M552 251.5h2M551 252.5h1M550 253.5h1M549 254.5h1M548 255.5h1M546 256.5h2M545 257.5h1M544 258.5h1M543 259.5h1M542 260.5h1M541 261.5h1M539 262.5h2M538 263.5h1M536 264.5h2M535 265.5h1M534 266.5h1M533 267.5h1M532 268.5h1M531 269.5h1M530 270.5h1M529 271.5h1M527 274.5h1M526 275.5h1M525 276.5h1M524 277.5h1M523 278.5h1M522 279.5h1M521 280.5h1M519 283.5h1M518 284.5h1M517 285.5h1M516 286.5h1M515 287.5h1M514 288.5h1M513 289.5h1M512 290.5h1M511 291.5h1M510 292.5h1M508 293.5h2M507 294.5h1M505 295.5h2M503 296.5h2M502 297.5h1M500 298.5h2M499 299.5h1M498 300.5h1M496 301.5h2M495 302.5h1M493 303.5h2M492 304.5h1M490 305.5h2M489 306.5h1M487 307.5h2M486 308.5h1M484 311.5h1M483 312.5h1M481 315.5h1M480 316.5h1M478 319.5h1M6 320.5h1M477 320.5h1M8 323.5h1M475 323.5h1M10 326.5h1M473 326.5h1M472 327.5h1M471 328.5h1M12 329.5h1M469 331.5h1M14 332.5h1M15 333.5h1M16 334.5h1M467 334.5h1M17 335.5h1M466 335.5h1M465 336.5h1M464 337.5h1M19 338.5h1M60 338.5h2M463 338.5h1M20 339.5h1M56 339.5h4M62 339.5h2M462 339.5h1M21 340.5h1M51 340.5h5M64 340.5h2M105 340.5h8M461 340.5h1M22 341.5h2M45 341.5h6M66 341.5h2M101 341.5h4M113 341.5h5M460 341.5h1M24 342.5h1M42 342.5h3M68 342.5h2M99 342.5h2M118 342.5h4M459 342.5h1M25 343.5h3M40 343.5h2M70 343.5h1M97 343.5h2M122 343.5h4M458 343.5h1M28 344.5h1M35 344.5h5M71 344.5h1M95 344.5h2M126 344.5h6M457 344.5h1M29 345.5h6M72 345.5h2M93 345.5h2M132 345.5h20M188 345.5h15M456 345.5h1M74 346.5h1M90 346.5h3M152 346.5h2M185 346.5h3M203 346.5h14M75 347.5h2M88 347.5h2M154 347.5h3M171 347.5h14M217 347.5h3M77 348.5h1M83 348.5h5M157 348.5h14M220 348.5h4M454 348.5h1M78 349.5h5M224 349.5h2M453 349.5h1M226 350.5h3M452 350.5h1M229 351.5h12M451 351.5h1M241 352.5h3M244 353.5h4M248 354.5h2M449 354.5h1M250 355.5h3M253 356.5h2M255 357.5h2M447 357.5h1M257 358.5h2M446 358.5h1M259 359.5h2M445 359.5h1M261 360.5h1M444 360.5h1M262 361.5h1M443 361.5h1M263 362.5h1M442 362.5h1M264 363.5h1M441 363.5h1M265 364.5h1M440 364.5h1M266 365.5h1M439 365.5h1M267 366.5h1M438 366.5h1M268 367.5h1M437 367.5h1M269 368.5h1M436 368.5h1M270 369.5h1M435 369.5h1M271 370.5h2M434 370.5h1M273 371.5h2M433 371.5h1M275 372.5h1M432 372.5h1M276 373.5h2M431 373.5h1M278 374.5h1M430 374.5h1M279 375.5h2M429 375.5h1M281 376.5h2M428 376.5h1M283 377.5h1M427 377.5h1M284 378.5h2M426 378.5h1M286 379.5h2M425 379.5h1M288 380.5h1M424 380.5h1M289 381.5h3M423 381.5h1M292 382.5h1M422 382.5h1M293 383.5h3M421 383.5h1M296 384.5h2M420 384.5h1M298 385.5h3M419 385.5h1M301 386.5h3M418 386.5h1M304 387.5h1M416 387.5h2M305 388.5h3M415 388.5h1M308 389.5h1M413 389.5h2M309 390.5h3M412 390.5h1M312 391.5h1M409 391.5h3M313 392.5h3M408 392.5h1M316 393.5h1M405 393.5h3M317 394.5h6M402 394.5h3M323 395.5h14M400 395.5h2M337 396.5h3M397 396.5h3M340 397.5h5M396 397.5h1M345 398.5h3M393 398.5h3M348 399.5h5M392 399.5h1M353 400.5h3M388 400.5h4M356 401.5h23M385 401.5h3M379 402.5h6" fill="none" stroke="#ffa500" stroke-width="1" shape-rendering="crispEdges"/>
<path d="M597 6.5h2M599 7.5h3M602 8.5h3M605 9.5h3M608 10.5h3M611 11.5h2M613 12.5h3M616 13.5h3M619 14.5h3M622 15.5h3M625 16.5h3M628 17.5h4M632 18.5h4M636 19.5h5M641 20.5h4M645 21.5h4M649 22.5h5M654 23.5h4M658 24.5h4M662 25.5h2M664 26.5h3M667 27.5h3M670 28.5h2M672 29.5h3M675 30.5h2M677 31.5h3M680 32.5h2M682 33.5h3M685 34.5h3M688 35.5h2M690 36.5h3M693 37.5h3M696 38.5h3M699 39.5h2M701 40.5h3M704 41.5h3M707 42.5h3M710 43.5h3M713 44.5h2M715 45.5h3M718 46.5h3M721 47.5h3M724 48.5h4M728 49.5h4M732 50.5h3M735 51.5h4M739 52.5h4M743 53.5h3M746 54.5h3M749 55.5h4M753 56.5h3M756 57.5h3M759 58.5h3M762 59.5h3M765 60.5h3M768 61.5h3M771 62.5h4M775 63.5h3M778 64.5h3M781 65.5h4M785 66.5h3M788 67.5h5M793 68.5h3M796 69.5h5M801 70.5h3M804 71.5h5M809 72.5h3M812 73.5h4M816 74.5h3M819 75.5h3M822 76.5h3M825 77.5h3M828 78.5h3M831 79.5h3M834 80.5h3M837 81.5h4M841 82.5h3M844 83.5h5M849 84.5h3M852 85.5h5M857 86.5h3M860 87.5h4M864 88.5h3M867 89.5h4M871 90.5h3M874 91.5h3M877 92.5h3M880 93.5h3M883 94.5h3M886 95.5h3M889 96.5h3M892 97.5h3M895 98.5h3M898 99.5h3M901 100.5h3M904 101.5h3M907 102.5h3M910 103.5h3M913 104.5h3M916 105.5h3M919 106.5h3M922 107.5h3M925 108.5h3M928 109.5h3M931 110.5h3M934 111.5h3M937 112.5h3M940 113.5h3M943 114.5h3M946 115.5h3M949 116.5h3M952 117.5h2M954 118.5h3M957 119.5h2M959 120.5h3M962 121.5h4M966 122.5h3M969 123.5h4M973 124.5h4M977 125.5h3M980 126.5h5M985 127.5h3M988 128.5h5M993 129.5h3M996 130.5h5M1001 131.5h3M1004 132.5h5M1009 133.5h3M1012 134.5h5M1017 135.5h3M1020 136.5h5M1025 137.5h3M1028 138.5h4M1032 139.5h3M1035 140.5h3M1038 141.5h3M1041 142.5h3M1044 143.5h3M1047 144.5h3M1050 145.5h3M1053 146.5h3M1056 147.5h3M1059 148.5h4M1063 149.5h3M1066 150.5h3M1069 151.5h3M1072 152.5h4M1076 153.5h3M1079 154.5h3M1082 155.5h4M1086 156.5h3M1089 157.5h4M1093 158.5h3M1096 159.5h2M1098 160.5h2M1100 161.5h2M1102 162.5h3M1105 163.5h2M1107 164.5h2M1109 165.5h3M1112 166.5h4M1116 167.5h3M1119 168.5h3M1122 169.5h4M1126 170.5h3M1129 171.5h4M1133 172.5h3M1136 173.5h3M1139 174.5h4M1143 175.5h3M1146 176.5h3M1149 177.5h3M1152 178.5h3M1155 179.5h4M1159 180.5h3M1162 181.5h3M1165 182.5h3M1168 183.5h3M1171 184.5h4M1175 185.5h3M1178 186.5h3M1181 187.5h3M1184 188.5h2M1186 189.5h2M1188 190.5h2M1190 191.5h3M1193 192.5h2M1195 193.5h2M1197 194.5h4M1201 195.5h3M1204 196.5h5M1209 197.5h3M1212 198.5h4M1216 199.5h3M1219 200.5h4M1223 201.5h3M1226 202.5h3M1229 203.5h3M1232 204.5h3M1235 205.5h4M1239 206.5h3M1242 207.5h3M1245 208.5h3M1248 209.5h3M1251 210.5h4M1255 211.5h3M1258 212.5h3M1261 213.5h3M1264 214.5h3M1267 215.5h4M1271 216.5h4M1275 217.5h4M1279 218.5h5M1284 219.5h5M1289 220.5h5M1294 221.5h4M1298 222.5h6M1304 223.5h6M1310 224.5h7M1317 225.5h11M1328 226.5h7" fill="none" stroke="#ff0000" stroke-width="1" shape-rendering="crispEdges"/>
</g>
<g clip-path="url(#cm)" shape-rendering="crispEdges">
<rect x="6" y="430" width="1681" height="2" fill="#4169e1"/>
<rect x="6" y="227" width="1681" height="2" fill="#4169e1"/>
<rect x="6" y="52" width="1681" height="2" fill="#32cd32"/>
</g>
<g shape-rendering="crispEdges">
<rect x="5" y="50" width="6" height="6" fill="#32cd32"/>
<rect x="7" y="52" width="2" height="2" fill="#fff"/>
<rect x="1680" y="50" width="6" height="6" fill="#32cd32"/>
<rect x="1682" y="52" width="2" height="2" fill="#fff"/>
<rect x="5" y="225" width="6" height="6" fill="#4169e1"/>
<rect x="7" y="227" width="2" height="2" fill="#fff"/>
<rect x="1680" y="225" width="6" height="6" fill="#4169e1"/>
<rect x="1682" y="227" width="2" height="2" fill="#fff"/>
<rect x="1344" y="7" width="9" height="1" fill="#778899"/>
<rect x="1345" y="8" width="7" height="1" fill="#778899"/>
<rect x="1346" y="9" width="5" height="1" fill="#778899"/>
<rect x="1347" y="10" width="3" height="1" fill="#778899"/>
<rect x="1348" y="11" width="1" height="1" fill="#778899"/>
<rect x="9" y="13" width="7" height="1" fill="#000"/>
<rect x="10" y="14" width="5" height="1" fill="#000"/>
<rect x="11" y="15" width="3" height="1" fill="#000"/>
<rect x="12" y="16" width="1" height="1" fill="#000"/>
</g>
<text x="20.7" y="18" textLength="57.22" lengthAdjust="spacingAndGlyphs">XAUUSD-,H4</text>
<text x="84.4" y="18" textLength="32.4" lengthAdjust="spacingAndGlyphs">1828.75</text>
<text x="120.6" y="18" textLength="32.4" lengthAdjust="spacingAndGlyphs">1830.91</text>
<text x="156.5" y="18" textLength="32.4" lengthAdjust="spacingAndGlyphs">1828.65</text>
<text x="192.5" y="18" textLength="32.4" lengthAdjust="spacingAndGlyphs">1830.78</text>
<g shape-rendering="crispEdges">
<rect x="1687" y="29" width="2" height="1" fill="#000"/>
<rect x="1687" y="62" width="2" height="1" fill="#000"/>
<rect x="1687" y="95" width="2" height="1" fill="#000"/>
<rect x="1687" y="128" width="2" height="1" fill="#000"/>
<rect x="1687" y="161" width="2" height="1" fill="#000"/>
<rect x="1687" y="194" width="2" height="1" fill="#000"/>
<rect x="1687" y="227" width="2" height="1" fill="#000"/>
<rect x="1687" y="260" width="2" height="1" fill="#000"/>
<rect x="1687" y="293" width="2" height="1" fill="#000"/>
<rect x="1687" y="326" width="2" height="1" fill="#000"/>
<rect x="1687" y="359" width="2" height="1" fill="#000"/>
<rect x="1687" y="392" width="2" height="1" fill="#000"/>
<rect x="1687" y="425" width="2" height="1" fill="#000"/>
<rect x="1687" y="458" width="2" height="1" fill="#000"/>
<rect x="1687" y="491" width="2" height="1" fill="#000"/>
<rect x="1687" y="524" width="2" height="1" fill="#000"/>
</g>
<text x="1692.5" y="33" textLength="32.3" lengthAdjust="spacingAndGlyphs">1834.15</text>
<text x="1692.5" y="66" textLength="32.3" lengthAdjust="spacingAndGlyphs">1828.45</text>
<text x="1692.5" y="99" textLength="32.3" lengthAdjust="spacingAndGlyphs">1822.75</text>
<text x="1692.5" y="132" textLength="32.3" lengthAdjust="spacingAndGlyphs">1817.20</text>
<text x="1692.5" y="165" textLength="32.31" lengthAdjust="spacingAndGlyphs">1811.50</text>
<text x="1692.5" y="198" textLength="32.3" lengthAdjust="spacingAndGlyphs">1805.80</text>
<text x="1692.5" y="231" textLength="32.3" lengthAdjust="spacingAndGlyphs">1800.10</text>
<text x="1692.5" y="264" textLength="32.3" lengthAdjust="spacingAndGlyphs">1794.40</text>
<text x="1692.5" y="297" textLength="32.3" lengthAdjust="spacingAndGlyphs">1788.70</text>
<text x="1692.5" y="330" textLength="32.3" lengthAdjust="spacingAndGlyphs">1783.00</text>
<text x="1692.5" y="363" textLength="32.3" lengthAdjust="spacingAndGlyphs">1777.30</text>
<text x="1692.5" y="396" textLength="32.3" lengthAdjust="spacingAndGlyphs">1771.60</text>
<text x="1692.5" y="429" textLength="32.3" lengthAdjust="spacingAndGlyphs">1765.90</text>
<text x="1692.5" y="462" textLength="32.3" lengthAdjust="spacingAndGlyphs">1760.35</text>
<text x="1692.5" y="495" textLength="32.3" lengthAdjust="spacingAndGlyphs">1754.65</text>
<text x="1692.5" y="528" textLength="32.3" lengthAdjust="spacingAndGlyphs">1748.95</text>
<g shape-rendering="crispEdges">
<rect x="1688" y="44" width="41" height="11" fill="#000"/>
</g>
<text x="1692.5" y="53" textLength="32.3" lengthAdjust="spacingAndGlyphs" style="fill:#fff;stroke:#fff">1830.78</text>
<g shape-rendering="crispEdges">
<rect x="1688" y="47" width="41" height="11" fill="#32cd32"/>
<rect x="1688" y="222" width="41" height="11" fill="#4169e1"/>
<rect x="1688" y="425" width="41" height="11" fill="#4169e1"/>
</g>
<text x="1692.5" y="56" textLength="32.3" lengthAdjust="spacingAndGlyphs" style="fill:#fff;stroke:#fff">1830.00</text>
<text x="1692.5" y="231" textLength="32.3" lengthAdjust="spacingAndGlyphs" style="fill:#fff;stroke:#fff">1800.00</text>
<text x="1692.5" y="434" textLength="32.3" lengthAdjust="spacingAndGlyphs" style="fill:#fff;stroke:#fff">1765.00</text>
<g fill="#ed1c24">
<text x="1120.4" y="353" textLength="288" lengthAdjust="spacingAndGlyphs" style="font-family:'Liberation Sans','Noto Sans CJK SC',sans-serif;font-size:40px;fill:#ed1c24;stroke:none">多空转折点1830</text>
</g>
<text x="10.6" y="542" textLength="65.02" lengthAdjust="spacingAndGlyphs">MACD(12,26,9)</text>
<text x="78.9" y="542" textLength="22.58" lengthAdjust="spacingAndGlyphs">6.809</text>
<text x="105.2" y="542" textLength="22.48" lengthAdjust="spacingAndGlyphs">3.121</text>
<g clip-path="url(#cd)" shape-rendering="crispEdges">
<rect x="6" y="580" width="1" height="82" fill="#c0c0c0"/>
<rect x="14" y="580" width="1" height="79" fill="#c0c0c0"/>
<rect x="22" y="580" width="1" height="76" fill="#c0c0c0"/>
<rect x="30" y="580" width="1" height="72" fill="#c0c0c0"/>
<rect x="38" y="580" width="1" height="66" fill="#c0c0c0"/>
<rect x="46" y="580" width="1" height="61" fill="#c0c0c0"/>
<rect x="54" y="580" width="1" height="56" fill="#c0c0c0"/>
<rect x="62" y="580" width="1" height="48" fill="#c0c0c0"/>
<rect x="70" y="580" width="1" height="48" fill="#c0c0c0"/>
<rect x="78" y="580" width="1" height="47" fill="#c0c0c0"/>
<rect x="86" y="580" width="1" height="46" fill="#c0c0c0"/>
<rect x="94" y="580" width="1" height="43" fill="#c0c0c0"/>
<rect x="102" y="580" width="1" height="36" fill="#c0c0c0"/>
<rect x="110" y="580" width="1" height="35" fill="#c0c0c0"/>
<rect x="118" y="580" width="1" height="35" fill="#c0c0c0"/>
<rect x="126" y="580" width="1" height="34" fill="#c0c0c0"/>
<rect x="134" y="580" width="1" height="31" fill="#c0c0c0"/>
<rect x="142" y="580" width="1" height="28" fill="#c0c0c0"/>
<rect x="150" y="580" width="1" height="23" fill="#c0c0c0"/>
<rect x="158" y="580" width="1" height="22" fill="#c0c0c0"/>
<rect x="166" y="580" width="1" height="21" fill="#c0c0c0"/>
<rect x="174" y="580" width="1" height="19" fill="#c0c0c0"/>
<rect x="182" y="580" width="1" height="18" fill="#c0c0c0"/>
<rect x="190" y="580" width="1" height="14" fill="#c0c0c0"/>
<rect x="198" y="580" width="1" height="16" fill="#c0c0c0"/>
<rect x="206" y="580" width="1" height="14" fill="#c0c0c0"/>
<rect x="214" y="580" width="1" height="12" fill="#c0c0c0"/>
<rect x="222" y="580" width="1" height="12" fill="#c0c0c0"/>
<rect x="230" y="580" width="1" height="14" fill="#c0c0c0"/>
<rect x="238" y="580" width="1" height="14" fill="#c0c0c0"/>
<rect x="246" y="580" width="1" height="18" fill="#c0c0c0"/>
<rect x="254" y="580" width="1" height="23" fill="#c0c0c0"/>
<rect x="262" y="580" width="1" height="27" fill="#c0c0c0"/>
<rect x="270" y="580" width="1" height="30" fill="#c0c0c0"/>
<rect x="278" y="580" width="1" height="32" fill="#c0c0c0"/>
<rect x="286" y="580" width="1" height="36" fill="#c0c0c0"/>
<rect x="294" y="580" width="1" height="36" fill="#c0c0c0"/>
<rect x="302" y="580" width="1" height="34" fill="#c0c0c0"/>
<rect x="310" y="580" width="1" height="30" fill="#c0c0c0"/>
<rect x="318" y="580" width="1" height="27" fill="#c0c0c0"/>
<rect x="326" y="580" width="1" height="21" fill="#c0c0c0"/>
<rect x="334" y="580" width="1" height="14" fill="#c0c0c0"/>
<rect x="342" y="580" width="1" height="11" fill="#c0c0c0"/>
<rect x="350" y="580" width="1" height="10" fill="#c0c0c0"/>
<rect x="358" y="580" width="1" height="7" fill="#c0c0c0"/>
<rect x="366" y="580" width="1" height="3" fill="#c0c0c0"/>
<rect x="374" y="580" width="1" height="1" fill="#c0c0c0"/>
<rect x="382" y="580" width="1" height="1" fill="#c0c0c0"/>
<rect x="390" y="574" width="1" height="7" fill="#c0c0c0"/>
<rect x="398" y="572" width="1" height="9" fill="#c0c0c0"/>
<rect x="406" y="566" width="1" height="15" fill="#c0c0c0"/>
<rect x="414" y="564" width="1" height="17" fill="#c0c0c0"/>
<rect x="422" y="563" width="1" height="18" fill="#c0c0c0"/>
<rect x="430" y="559" width="1" height="22" fill="#c0c0c0"/>
<rect x="438" y="557" width="1" height="24" fill="#c0c0c0"/>
<rect x="446" y="556" width="1" height="25" fill="#c0c0c0"/>
<rect x="454" y="554" width="1" height="27" fill="#c0c0c0"/>
<rect x="462" y="554" width="1" height="27" fill="#c0c0c0"/>
<rect x="470" y="551" width="1" height="30" fill="#c0c0c0"/>
<rect x="478" y="545" width="1" height="36" fill="#c0c0c0"/>
<rect x="486" y="539" width="1" height="42" fill="#c0c0c0"/>
<rect x="494" y="541" width="1" height="40" fill="#c0c0c0"/>
<rect x="502" y="543" width="1" height="38" fill="#c0c0c0"/>
<rect x="510" y="545" width="1" height="36" fill="#c0c0c0"/>
<rect x="518" y="546" width="1" height="35" fill="#c0c0c0"/>
<rect x="526" y="544" width="1" height="37" fill="#c0c0c0"/>
<rect x="534" y="543" width="1" height="38" fill="#c0c0c0"/>
<rect x="542" y="542" width="1" height="39" fill="#c0c0c0"/>
<rect x="550" y="544" width="1" height="37" fill="#c0c0c0"/>
<rect x="558" y="545" width="1" height="36" fill="#c0c0c0"/>
<rect x="566" y="549" width="1" height="32" fill="#c0c0c0"/>
<rect x="574" y="548" width="1" height="33" fill="#c0c0c0"/>
<rect x="582" y="544" width="1" height="37" fill="#c0c0c0"/>
<rect x="590" y="550" width="1" height="31" fill="#c0c0c0"/>
<rect x="598" y="553" width="1" height="28" fill="#c0c0c0"/>
<rect x="606" y="554" width="1" height="27" fill="#c0c0c0"/>
<rect x="614" y="555" width="1" height="26" fill="#c0c0c0"/>
<rect x="622" y="556" width="1" height="25" fill="#c0c0c0"/>
<rect x="630" y="559" width="1" height="22" fill="#c0c0c0"/>
<rect x="638" y="558" width="1" height="23" fill="#c0c0c0"/>
<rect x="646" y="556" width="1" height="25" fill="#c0c0c0"/>
<rect x="654" y="557" width="1" height="24" fill="#c0c0c0"/>
<rect x="662" y="560" width="1" height="21" fill="#c0c0c0"/>
<rect x="670" y="562" width="1" height="19" fill="#c0c0c0"/>
<rect x="678" y="565" width="1" height="16" fill="#c0c0c0"/>
<rect x="686" y="566" width="1" height="15" fill="#c0c0c0"/>
<rect x="694" y="566" width="1" height="15" fill="#c0c0c0"/>
<rect x="702" y="566" width="1" height="15" fill="#c0c0c0"/>
<rect x="710" y="565" width="1" height="16" fill="#c0c0c0"/>
<rect x="718" y="564" width="1" height="17" fill="#c0c0c0"/>
<rect x="726" y="563" width="1" height="18" fill="#c0c0c0"/>
<rect x="734" y="562" width="1" height="19" fill="#c0c0c0"/>
<rect x="742" y="563" width="1" height="18" fill="#c0c0c0"/>
<rect x="750" y="565" width="1" height="16" fill="#c0c0c0"/>
<rect x="758" y="564" width="1" height="17" fill="#c0c0c0"/>
<rect x="766" y="563" width="1" height="18" fill="#c0c0c0"/>
<rect x="774" y="561" width="1" height="20" fill="#c0c0c0"/>
<rect x="782" y="557" width="1" height="24" fill="#c0c0c0"/>
<rect x="790" y="552" width="1" height="29" fill="#c0c0c0"/>
<rect x="798" y="549" width="1" height="32" fill="#c0c0c0"/>
<rect x="806" y="547" width="1" height="34" fill="#c0c0c0"/>
<rect x="814" y="543" width="1" height="38" fill="#c0c0c0"/>
<rect x="822" y="543" width="1" height="38" fill="#c0c0c0"/>
<rect x="830" y="544" width="1" height="37" fill="#c0c0c0"/>
<rect x="838" y="543" width="1" height="38" fill="#c0c0c0"/>
<rect x="846" y="543" width="1" height="38" fill="#c0c0c0"/>
<rect x="854" y="544" width="1" height="37" fill="#c0c0c0"/>
<rect x="862" y="547" width="1" height="34" fill="#c0c0c0"/>
<rect x="870" y="553" width="1" height="28" fill="#c0c0c0"/>
<rect x="878" y="559" width="1" height="22" fill="#c0c0c0"/>
<rect x="886" y="565" width="1" height="16" fill="#c0c0c0"/>
<rect x="894" y="568" width="1" height="13" fill="#c0c0c0"/>
<rect x="902" y="572" width="1" height="9" fill="#c0c0c0"/>
<rect x="910" y="578" width="1" height="3" fill="#c0c0c0"/>
<rect x="918" y="580" width="1" height="4" fill="#c0c0c0"/>
<rect x="926" y="580" width="1" height="7" fill="#c0c0c0"/>
<rect x="934" y="580" width="1" height="7" fill="#c0c0c0"/>
<rect x="942" y="580" width="1" height="7" fill="#c0c0c0"/>
<rect x="950" y="580" width="1" height="4" fill="#c0c0c0"/>
<rect x="958" y="580" width="1" height="4" fill="#c0c0c0"/>
<rect x="966" y="580" width="1" height="3" fill="#c0c0c0"/>
<rect x="974" y="580" width="1" height="3" fill="#c0c0c0"/>
<rect x="982" y="580" width="1" height="6" fill="#c0c0c0"/>
<rect x="990" y="580" width="1" height="5" fill="#c0c0c0"/>
<rect x="998" y="580" width="1" height="8" fill="#c0c0c0"/>
<rect x="1006" y="580" width="1" height="9" fill="#c0c0c0"/>
<rect x="1014" y="580" width="1" height="13" fill="#c0c0c0"/>
<rect x="1022" y="580" width="1" height="14" fill="#c0c0c0"/>
<rect x="1030" y="580" width="1" height="15" fill="#c0c0c0"/>
<rect x="1038" y="580" width="1" height="17" fill="#c0c0c0"/>
<rect x="1046" y="580" width="1" height="19" fill="#c0c0c0"/>
<rect x="1054" y="580" width="1" height="20" fill="#c0c0c0"/>
<rect x="1062" y="580" width="1" height="22" fill="#c0c0c0"/>
<rect x="1070" y="580" width="1" height="18" fill="#c0c0c0"/>
<rect x="1078" y="580" width="1" height="16" fill="#c0c0c0"/>
<rect x="1086" y="580" width="1" height="14" fill="#c0c0c0"/>
<rect x="1094" y="580" width="1" height="14" fill="#c0c0c0"/>
<rect x="1102" y="580" width="1" height="11" fill="#c0c0c0"/>
<rect x="1110" y="580" width="1" height="14" fill="#c0c0c0"/>
<rect x="1118" y="580" width="1" height="14" fill="#c0c0c0"/>
<rect x="1126" y="580" width="1" height="14" fill="#c0c0c0"/>
<rect x="1134" y="580" width="1" height="13" fill="#c0c0c0"/>
<rect x="1142" y="580" width="1" height="11" fill="#c0c0c0"/>
<rect x="1150" y="580" width="1" height="8" fill="#c0c0c0"/>
<rect x="1158" y="580" width="1" height="6" fill="#c0c0c0"/>
<rect x="1166" y="580" width="1" height="8" fill="#c0c0c0"/>
<rect x="1174" y="580" width="1" height="10" fill="#c0c0c0"/>
<rect x="1182" y="580" width="1" height="11" fill="#c0c0c0"/>
<rect x="1190" y="580" width="1" height="12" fill="#c0c0c0"/>
<rect x="1198" y="580" width="1" height="13" fill="#c0c0c0"/>
<rect x="1206" y="580" width="1" height="13" fill="#c0c0c0"/>
<rect x="1214" y="580" width="1" height="12" fill="#c0c0c0"/>
<rect x="1222" y="580" width="1" height="11" fill="#c0c0c0"/>
<rect x="1230" y="580" width="1" height="10" fill="#c0c0c0"/>
<rect x="1238" y="580" width="1" height="8" fill="#c0c0c0"/>
<rect x="1246" y="580" width="1" height="7" fill="#c0c0c0"/>
<rect x="1254" y="580" width="1" height="9" fill="#c0c0c0"/>
<rect x="1262" y="580" width="1" height="8" fill="#c0c0c0"/>
<rect x="1270" y="580" width="1" height="3" fill="#c0c0c0"/>
<rect x="1278" y="580" width="1" height="1" fill="#c0c0c0"/>
<rect x="1286" y="575" width="1" height="6" fill="#c0c0c0"/>
<rect x="1294" y="571" width="1" height="10" fill="#c0c0c0"/>
<rect x="1302" y="563" width="1" height="18" fill="#c0c0c0"/>
<rect x="1310" y="555" width="1" height="26" fill="#c0c0c0"/>
<rect x="1318" y="549" width="1" height="32" fill="#c0c0c0"/>
<rect x="1326" y="545" width="1" height="36" fill="#c0c0c0"/>
<rect x="1334" y="542" width="1" height="39" fill="#c0c0c0"/>
</g>
<g clip-path="url(#cd)">
<path d="M539 542.5h3M545 542.5h3M551 542.5h3M557 542.5h3M527 543.5h3M533 543.5h3M563 543.5h3M569 543.5h3M575 543.5h1M517 544.5h1M521 544.5h3M576 544.5h2M581 544.5h3M852 544.5h2M857 544.5h3M863 544.5h3M869 544.5h3M515 545.5h2M587 545.5h3M851 545.5h1M875 545.5h3M510 546.5h2M593 546.5h3M847 546.5h1M505 547.5h1M509 547.5h1M599 547.5h3M605 547.5h3M845 547.5h2M881 547.5h3M503 548.5h2M611 548.5h3M835 548.5h1M839 548.5h3M887 548.5h1M498 549.5h2M617 549.5h3M833 549.5h2M888 549.5h2M493 550.5h1M497 550.5h1M623 550.5h3M827 550.5h3M893 550.5h2M491 551.5h2M629 551.5h3M635 551.5h1M895 551.5h1M486 552.5h2M636 552.5h2M821 552.5h3M899 552.5h2M485 553.5h1M641 553.5h3M647 553.5h3M901 553.5h1M480 554.5h2M653 554.5h3M659 554.5h3M815 554.5h3M479 555.5h1M665 555.5h3M905 555.5h2M473 556.5h3M671 556.5h2M809 556.5h3M907 556.5h1M673 557.5h1M677 557.5h3M804 557.5h2M467 558.5h3M683 558.5h3M798 558.5h2M803 558.5h1M911 558.5h2M463 559.5h1M689 559.5h1M791 559.5h3M797 559.5h1M913 559.5h1M461 560.5h2M690 560.5h2M695 560.5h3M701 560.5h1M787 560.5h1M456 561.5h2M702 561.5h2M707 561.5h3M713 561.5h2M780 561.5h2M785 561.5h2M917 561.5h1M455 562.5h1M715 562.5h1M719 562.5h3M773 562.5h3M779 562.5h1M918 562.5h2M1333 562.5h1M449 563.5h3M725 563.5h3M731 563.5h3M737 563.5h3M743 563.5h3M749 563.5h3M755 563.5h3M761 563.5h3M767 563.5h3M1332 563.5h1M444 564.5h2M1331 564.5h1M443 565.5h1M923 565.5h2M925 566.5h1M1327 566.5h1M438 567.5h2M1325 567.5h2M437 568.5h1M929 568.5h1M930 569.5h1M432 570.5h2M931 570.5h1M1320 570.5h2M431 571.5h1M1319 571.5h1M426 572.5h2M935 572.5h1M425 573.5h1M936 573.5h2M1315 573.5h1M420 574.5h2M1313 574.5h2M419 575.5h1M941 575.5h1M415 576.5h1M942 576.5h1M1309 576.5h1M413 577.5h2M943 577.5h1M1307 577.5h2M407 579.5h3M947 579.5h3M1302 579.5h2M403 580.5h1M953 580.5h3M1301 580.5h1M401 581.5h2M959 581.5h3M965 581.5h2M396 582.5h2M967 582.5h1M971 582.5h1M1297 582.5h1M395 583.5h1M972 583.5h2M1295 583.5h2M977 584.5h2M1290 584.5h2M390 585.5h2M979 585.5h1M983 585.5h3M989 585.5h3M995 585.5h3M1001 585.5h3M1289 585.5h1M389 586.5h1M1007 586.5h3M1013 586.5h1M1283 586.5h3M1014 587.5h2M1019 587.5h3M1279 587.5h1M384 588.5h2M1025 588.5h3M1277 588.5h2M383 589.5h1M1031 589.5h3M1271 589.5h3M1037 590.5h3M1205 590.5h3M1211 590.5h2M1261 590.5h1M1265 590.5h3M378 591.5h2M1043 591.5h3M1163 591.5h3M1169 591.5h3M1175 591.5h3M1181 591.5h3M1187 591.5h3M1193 591.5h3M1199 591.5h3M1213 591.5h1M1217 591.5h3M1223 591.5h2M1247 591.5h3M1253 591.5h3M1259 591.5h2M377 592.5h1M1049 592.5h3M1157 592.5h3M1225 592.5h1M1229 592.5h3M1235 592.5h3M1241 592.5h3M1145 593.5h3M1151 593.5h3M372 594.5h2M1055 594.5h3M1133 594.5h3M1139 594.5h3M233 595.5h3M239 595.5h3M245 595.5h3M251 595.5h1M371 595.5h1M1061 595.5h2M1127 595.5h3M227 596.5h3M252 596.5h2M1063 596.5h1M1067 596.5h2M1116 596.5h2M1121 596.5h3M217 597.5h1M221 597.5h3M257 597.5h3M263 597.5h1M366 597.5h2M1069 597.5h1M1073 597.5h3M1079 597.5h3M1085 597.5h3M1091 597.5h3M1097 597.5h3M1103 597.5h3M1109 597.5h3M1115 597.5h1M210 598.5h2M215 598.5h2M264 598.5h2M365 598.5h1M205 599.5h1M209 599.5h1M269 599.5h3M203 600.5h2M275 600.5h2M359 600.5h3M198 601.5h2M277 601.5h1M197 602.5h1M281 602.5h3M354 602.5h2M192 603.5h2M353 603.5h1M191 604.5h1M287 604.5h3M349 604.5h1M186 605.5h2M293 605.5h1M347 605.5h2M181 606.5h1M185 606.5h1M294 606.5h2M179 607.5h2M299 607.5h2M341 607.5h3M173 608.5h3M301 608.5h1M305 608.5h2M335 608.5h3M167 609.5h3M307 609.5h1M311 609.5h3M325 609.5h1M329 609.5h3M162 610.5h2M317 610.5h3M323 610.5h2M161 611.5h1M155 613.5h3M150 615.5h2M149 616.5h1M143 617.5h3M139 618.5h1M137 619.5h2M131 620.5h3M127 621.5h1M125 622.5h2M119 623.5h3M114 625.5h2M113 626.5h1M109 627.5h1M107 628.5h2M102 630.5h2M101 631.5h1M95 633.5h3M91 635.5h1M89 636.5h2M85 638.5h1M83 639.5h2M78 642.5h2M77 643.5h1M72 645.5h2M71 646.5h1M66 648.5h2M65 649.5h1M59 651.5h3M55 653.5h1M53 654.5h2M49 656.5h1M47 657.5h2M43 660.5h1M42 661.5h1M41 662.5h1M36 665.5h2M35 666.5h1M31 668.5h1M30 669.5h1M29 670.5h1M25 672.5h1M24 673.5h1M23 674.5h1M19 677.5h1M18 678.5h1M17 679.5h1M12 682.5h2M11 683.5h1M6 686.5h2M5 687.5h1" fill="none" stroke="#ff0000" stroke-width="1" shape-rendering="crispEdges"/>
</g>
<g shape-rendering="crispEdges">
<rect x="1687" y="531" width="1" height="1" fill="#000"/>
<rect x="1687" y="580" width="1" height="1" fill="#000"/>
<rect x="1687" y="694" width="1" height="1" fill="#000"/>
</g>
<text x="1690.1" y="540" textLength="22.88" lengthAdjust="spacingAndGlyphs">8.647</text>
<text x="1690.1" y="584" textLength="17.91" lengthAdjust="spacingAndGlyphs">0.00</text>
<text x="1690.1" y="692" textLength="30.82" lengthAdjust="spacingAndGlyphs">-20.241</text>
<text x="10.6" y="710" textLength="31.2" lengthAdjust="spacingAndGlyphs">RSI(14)</text>
<text x="45.5" y="710" textLength="32.3" lengthAdjust="spacingAndGlyphs">70.8236</text>
<g clip-path="url(#cr)">
<line x1="7" y1="735.5" x2="1686" y2="735.5" stroke="#c0c0c0" stroke-dasharray="3 3" shape-rendering="crispEdges"/>
<line x1="7" y1="784.5" x2="1686" y2="784.5" stroke="#c0c0c0" stroke-dasharray="3 3" shape-rendering="crispEdges"/>
<path d="M64.5 767v2M68.5 772v2M95.5 770v2M97.5 767v2M99.5 764v2M101.5 761v2M290.5 779v2M320.5 762v2M324.5 757v2M386.5 749v2M486.5 731v2M487.5 733v2M488.5 735v2M489.5 737v3M490.5 740v2M491.5 742v3M492.5 745v2M493.5 747v2M494.5 749v2M562.5 750v2M568.5 752v2M572.5 747v2M582.5 739v2M583.5 741v2M584.5 743v3M585.5 746v2M586.5 748v3M587.5 751v2M588.5 753v3M589.5 756v2M590.5 758v2M818.5 738v2M919.5 776v2M921.5 773v2M923.5 770v2M925.5 767v2M967.5 756v2M969.5 759v2M971.5 762v2M973.5 765v2M1063.5 773v2M1064.5 771v2M1065.5 769v2M1066.5 767v2M1067.5 765v2M1068.5 763v2M1069.5 761v2M1103.5 758v2M1104.5 760v2M1105.5 762v2M1107.5 765v2M1108.5 767v2M1109.5 769v2M1162.5 761v2M1232.5 761v2M1236.5 756v2M1264.5 758v2M1268.5 753v2M483 731.5h3M478 732.5h5M1309 732.5h4M477 733.5h1M1308 733.5h1M1313 733.5h3M476 734.5h1M814 734.5h1M1305 734.5h3M1316 734.5h5M1332 734.5h3M475 735.5h1M790 735.5h2M812 735.5h2M815 735.5h1M1304 735.5h1M1321 735.5h3M1329 735.5h3M474 736.5h1M788 736.5h2M792 736.5h2M811 736.5h1M816 736.5h1M1302 736.5h2M1324 736.5h5M473 737.5h1M787 737.5h1M794 737.5h3M809 737.5h2M817 737.5h1M1301 737.5h1M472 738.5h1M785 738.5h2M797 738.5h6M807 738.5h2M1300 738.5h1M471 739.5h1M783 739.5h2M803 739.5h4M1299 739.5h1M470 740.5h1M581 740.5h1M782 740.5h1M819 740.5h1M843 740.5h5M1298 740.5h1M469 741.5h1M531 741.5h4M579 741.5h2M780 741.5h2M820 741.5h1M837 741.5h6M848 741.5h2M1297 741.5h1M467 742.5h2M525 742.5h6M535 742.5h2M578 742.5h1M779 742.5h1M821 742.5h1M834 742.5h3M850 742.5h3M1296 742.5h1M406 743.5h1M430 743.5h2M466 743.5h1M524 743.5h1M537 743.5h2M576 743.5h2M777 743.5h2M822 743.5h5M832 743.5h2M853 743.5h2M1295 743.5h1M405 744.5h1M407 744.5h2M429 744.5h1M432 744.5h1M452 744.5h5M464 744.5h2M521 744.5h3M539 744.5h1M575 744.5h1M775 744.5h2M827 744.5h5M855 744.5h1M1291 744.5h4M390 745.5h1M404 745.5h1M409 745.5h2M427 745.5h2M433 745.5h3M449 745.5h3M457 745.5h3M463 745.5h1M520 745.5h1M540 745.5h2M574 745.5h1M774 745.5h1M856 745.5h1M1286 745.5h5M389 746.5h1M391 746.5h2M402 746.5h2M411 746.5h1M426 746.5h1M436 746.5h1M443 746.5h6M460 746.5h3M518 746.5h2M542 746.5h17M573 746.5h1M645 746.5h2M734 746.5h1M772 746.5h2M857 746.5h1M1285 746.5h1M388 747.5h1M393 747.5h2M401 747.5h1M412 747.5h2M424 747.5h2M437 747.5h6M516 747.5h2M559 747.5h1M644 747.5h1M647 747.5h1M732 747.5h2M735 747.5h1M771 747.5h1M858 747.5h1M1283 747.5h2M387 748.5h1M395 748.5h1M400 748.5h1M414 748.5h5M423 748.5h1M515 748.5h1M560 748.5h1M641 748.5h3M648 748.5h1M731 748.5h1M736 748.5h1M769 748.5h2M859 748.5h1M1282 748.5h1M396 749.5h2M399 749.5h1M419 749.5h4M513 749.5h2M561 749.5h1M571 749.5h1M640 749.5h1M649 749.5h1M729 749.5h2M737 749.5h1M767 749.5h2M860 749.5h1M1280 749.5h2M398 750.5h1M495 750.5h12M511 750.5h2M570 750.5h1M638 750.5h2M650 750.5h1M715 750.5h8M727 750.5h2M738 750.5h1M758 750.5h9M861 750.5h1M1279 750.5h1M374 751.5h2M385 751.5h1M507 751.5h4M569 751.5h1M612 751.5h5M637 751.5h1M651 751.5h1M708 751.5h7M723 751.5h4M739 751.5h1M757 751.5h1M862 751.5h1M1270 751.5h9M372 752.5h2M376 752.5h2M384 752.5h1M563 752.5h1M609 752.5h3M617 752.5h3M636 752.5h1M652 752.5h1M705 752.5h3M740 752.5h1M756 752.5h1M863 752.5h1M1269 752.5h1M371 753.5h1M378 753.5h3M383 753.5h1M564 753.5h1M604 753.5h5M620 753.5h3M635 753.5h1M653 753.5h1M699 753.5h6M741 753.5h1M755 753.5h1M864 753.5h1M331 754.5h12M369 754.5h2M381 754.5h2M565 754.5h1M567 754.5h1M601 754.5h3M623 754.5h2M634 754.5h1M654 754.5h2M691 754.5h8M742 754.5h2M754 754.5h1M865 754.5h1M1238 754.5h1M326 755.5h5M343 755.5h1M367 755.5h2M566 755.5h1M597 755.5h4M625 755.5h2M633 755.5h1M656 755.5h2M686 755.5h5M744 755.5h1M753 755.5h1M866 755.5h1M966 755.5h1M1237 755.5h1M1239 755.5h1M1267 755.5h1M325 756.5h1M344 756.5h1M358 756.5h9M596 756.5h1M627 756.5h1M632 756.5h1M658 756.5h3M667 756.5h5M684 756.5h2M745 756.5h3M752 756.5h1M867 756.5h1M950 756.5h2M964 756.5h2M1240 756.5h1M1266 756.5h1M345 757.5h1M357 757.5h1M593 757.5h3M628 757.5h2M631 757.5h1M661 757.5h6M672 757.5h1M683 757.5h1M748 757.5h1M751 757.5h1M868 757.5h1M949 757.5h1M952 757.5h1M963 757.5h1M1102 757.5h1M1147 757.5h12M1241 757.5h1M1265 757.5h1M346 758.5h1M355 758.5h2M592 758.5h1M630 758.5h1M673 758.5h3M681 758.5h2M749 758.5h2M869 758.5h1M948 758.5h1M953 758.5h3M961 758.5h2M968 758.5h1M1101 758.5h1M1142 758.5h5M1159 758.5h1M1235 758.5h1M1242 758.5h2M149 759.5h2M323 759.5h1M347 759.5h1M354 759.5h1M591 759.5h1M676 759.5h1M679 759.5h2M870 759.5h1M946 759.5h2M956 759.5h1M959 759.5h2M1100 759.5h1M1141 759.5h1M1160 759.5h1M1234 759.5h1M1244 759.5h1M102 760.5h1M146 760.5h3M151 760.5h1M189 760.5h2M322 760.5h1M348 760.5h1M352 760.5h2M677 760.5h2M871 760.5h1M945 760.5h1M957 760.5h2M1070 760.5h17M1099 760.5h1M1140 760.5h1M1161 760.5h1M1233 760.5h1M1245 760.5h1M1263 760.5h1M103 761.5h1M144 761.5h2M152 761.5h2M188 761.5h1M191 761.5h1M206 761.5h3M321 761.5h1M349 761.5h1M351 761.5h1M872 761.5h1M893 761.5h3M944 761.5h1M970 761.5h1M1087 761.5h2M1098 761.5h1M1139 761.5h1M1246 761.5h1M1262 761.5h1M104 762.5h1M141 762.5h3M154 762.5h1M173 762.5h4M185 762.5h3M192 762.5h1M205 762.5h1M209 762.5h3M350 762.5h1M873 762.5h1M892 762.5h1M896 762.5h1M933 762.5h6M943 762.5h1M1089 762.5h2M1097 762.5h1M1138 762.5h1M1247 762.5h1M1261 762.5h1M100 763.5h1M105 763.5h1M140 763.5h1M155 763.5h2M172 763.5h1M177 763.5h3M184 763.5h1M193 763.5h1M204 763.5h1M212 763.5h7M309 763.5h4M874 763.5h2M889 763.5h3M897 763.5h3M932 763.5h1M939 763.5h4M1091 763.5h1M1096 763.5h1M1118 763.5h5M1137 763.5h1M1163 763.5h1M1231 763.5h1M1248 763.5h1M1260 763.5h1M106 764.5h1M137 764.5h3M157 764.5h1M169 764.5h3M180 764.5h4M194 764.5h1M202 764.5h2M219 764.5h5M308 764.5h1M313 764.5h3M319 764.5h1M876 764.5h1M888 764.5h1M900 764.5h1M929 764.5h3M972 764.5h1M981 764.5h14M1092 764.5h2M1095 764.5h1M1106 764.5h1M1117 764.5h1M1123 764.5h6M1136 764.5h1M1164 764.5h1M1221 764.5h10M1249 764.5h1M1258 764.5h2M62 765.5h1M107 765.5h1M136 765.5h1M158 765.5h5M168 765.5h1M195 765.5h1M201 765.5h1M224 765.5h2M305 765.5h3M316 765.5h3M877 765.5h1M883 765.5h5M901 765.5h2M928 765.5h1M978 765.5h3M995 765.5h6M1094 765.5h1M1116 765.5h1M1129 765.5h3M1135 765.5h1M1165 765.5h1M1218 765.5h3M1250 765.5h2M1257 765.5h1M60 766.5h2M63 766.5h1M98 766.5h1M108 766.5h1M133 766.5h3M163 766.5h5M196 766.5h1M200 766.5h1M226 766.5h3M304 766.5h1M878 766.5h5M903 766.5h1M926 766.5h2M976 766.5h2M1001 766.5h3M1115 766.5h1M1132 766.5h3M1166 766.5h2M1188 766.5h15M1216 766.5h2M1252 766.5h1M1256 766.5h1M59 767.5h1M109 767.5h1M132 767.5h1M197 767.5h1M199 767.5h1M229 767.5h4M302 767.5h2M904 767.5h1M974 767.5h2M1004 767.5h3M1114 767.5h1M1168 767.5h2M1185 767.5h3M1203 767.5h13M1253 767.5h1M1255 767.5h1M57 768.5h2M110 768.5h2M129 768.5h3M198 768.5h1M233 768.5h3M301 768.5h1M905 768.5h1M1007 768.5h1M1022 768.5h5M1113 768.5h1M1170 768.5h3M1179 768.5h6M1254 768.5h1M55 769.5h2M65 769.5h1M96 769.5h1M112 769.5h1M128 769.5h1M236 769.5h4M300 769.5h1M906 769.5h1M924 769.5h1M1008 769.5h2M1020 769.5h2M1027 769.5h8M1112 769.5h1M1173 769.5h6M51 770.5h4M66 770.5h1M113 770.5h3M124 770.5h4M240 770.5h2M299 770.5h1M907 770.5h1M1010 770.5h1M1019 770.5h1M1035 770.5h4M1111 770.5h1M43 771.5h8M67 771.5h1M116 771.5h1M121 771.5h3M242 771.5h3M298 771.5h1M908 771.5h1M1011 771.5h2M1017 771.5h2M1039 771.5h2M1053 771.5h3M1110 771.5h1M37 772.5h6M77 772.5h4M92 772.5h3M117 772.5h4M245 772.5h2M297 772.5h1M909 772.5h1M922 772.5h1M1013 772.5h1M1015 772.5h2M1041 772.5h2M1052 772.5h1M1056 772.5h1M36 773.5h1M74 773.5h3M81 773.5h3M89 773.5h3M247 773.5h1M296 773.5h1M910 773.5h1M1014 773.5h1M1043 773.5h1M1049 773.5h3M1057 773.5h3M33 774.5h3M69 774.5h1M72 774.5h2M84 774.5h5M248 774.5h2M295 774.5h1M911 774.5h2M1044 774.5h2M1048 774.5h1M1060 774.5h1M6 775.5h2M32 775.5h1M70 775.5h2M250 775.5h1M294 775.5h1M913 775.5h2M920 775.5h1M1046 775.5h2M1061 775.5h2M8 776.5h2M28 776.5h4M251 776.5h2M293 776.5h1M915 776.5h1M10 777.5h3M25 777.5h3M253 777.5h1M292 777.5h1M916 777.5h2M13 778.5h12M254 778.5h3M291 778.5h1M918 778.5h1M257 779.5h3M267 779.5h12M260 780.5h7M279 780.5h2M281 781.5h2M289 781.5h1M283 782.5h1M288 782.5h1M284 783.5h2M287 783.5h1M286 784.5h1" fill="none" stroke="#1e90ff" stroke-width="1" shape-rendering="crispEdges"/>
</g>
<g shape-rendering="crispEdges">
<rect x="1687" y="699" width="1" height="1" fill="#000"/>
<rect x="1687" y="820" width="1" height="1" fill="#000"/>
</g>
<text x="1690.5" y="708" textLength="14.49" lengthAdjust="spacingAndGlyphs">100</text>
<text x="1689.3" y="739" textLength="9.52" lengthAdjust="spacingAndGlyphs">70</text>
<text x="1689.1" y="788" textLength="9.72" lengthAdjust="spacingAndGlyphs">30</text>
<text x="1690.1" y="818" textLength="4.81" lengthAdjust="spacingAndGlyphs">0</text>
<g shape-rendering="crispEdges">
<rect x="6" y="822" width="1" height="3" fill="#000"/>
<rect x="70" y="822" width="1" height="3" fill="#000"/>
<rect x="134" y="822" width="1" height="3" fill="#000"/>
<rect x="198" y="822" width="1" height="3" fill="#000"/>
<rect x="262" y="822" width="1" height="3" fill="#000"/>
<rect x="326" y="822" width="1" height="3" fill="#000"/>
<rect x="390" y="822" width="1" height="3" fill="#000"/>
<rect x="454" y="822" width="1" height="3" fill="#000"/>
<rect x="518" y="822" width="1" height="3" fill="#000"/>
<rect x="582" y="822" width="1" height="3" fill="#000"/>
<rect x="646" y="822" width="1" height="3" fill="#000"/>
<rect x="710" y="822" width="1" height="3" fill="#000"/>
<rect x="774" y="822" width="1" height="3" fill="#000"/>
<rect x="838" y="822" width="1" height="3" fill="#000"/>
<rect x="902" y="822" width="1" height="3" fill="#000"/>
<rect x="966" y="822" width="1" height="3" fill="#000"/>
<rect x="1030" y="822" width="1" height="3" fill="#000"/>
<rect x="1094" y="822" width="1" height="3" fill="#000"/>
<rect x="1158" y="822" width="1" height="3" fill="#000"/>
<rect x="1222" y="822" width="1" height="3" fill="#000"/>
<rect x="1286" y="822" width="1" height="3" fill="#000"/>
</g>
<text x="5.2" y="834" textLength="49.6" lengthAdjust="spacingAndGlyphs">22&#160;Jun&#160;2021</text>
<text x="69.2" y="834" textLength="52.48" lengthAdjust="spacingAndGlyphs">23&#160;Jun&#160;16:00</text>
<text x="133.2" y="834" textLength="52.48" lengthAdjust="spacingAndGlyphs">25&#160;Jun&#160;00:00</text>
<text x="197.2" y="834" textLength="52.48" lengthAdjust="spacingAndGlyphs">28&#160;Jun&#160;08:00</text>
<text x="261.2" y="834" textLength="52.48" lengthAdjust="spacingAndGlyphs">29&#160;Jun&#160;16:00</text>
<text x="325.2" y="834" textLength="44.28" lengthAdjust="spacingAndGlyphs">1&#160;Jul&#160;00:00</text>
<text x="389.2" y="834" textLength="44.28" lengthAdjust="spacingAndGlyphs">2&#160;Jul&#160;08:00</text>
<text x="453.2" y="834" textLength="44.28" lengthAdjust="spacingAndGlyphs">5&#160;Jul&#160;16:00</text>
<text x="517.2" y="834" textLength="44.28" lengthAdjust="spacingAndGlyphs">7&#160;Jul&#160;00:00</text>
<text x="581.2" y="834" textLength="44.28" lengthAdjust="spacingAndGlyphs">8&#160;Jul&#160;08:00</text>
<text x="645.2" y="834" textLength="44.28" lengthAdjust="spacingAndGlyphs">9&#160;Jul&#160;16:00</text>
<text x="709.6" y="834" textLength="48.99" lengthAdjust="spacingAndGlyphs">13&#160;Jul&#160;00:00</text>
<text x="773.6" y="834" textLength="48.99" lengthAdjust="spacingAndGlyphs">14&#160;Jul&#160;08:00</text>
<text x="837.6" y="834" textLength="48.99" lengthAdjust="spacingAndGlyphs">15&#160;Jul&#160;16:00</text>
<text x="901.6" y="834" textLength="48.99" lengthAdjust="spacingAndGlyphs">19&#160;Jul&#160;00:00</text>
<text x="965.2" y="834" textLength="48.99" lengthAdjust="spacingAndGlyphs">20&#160;Jul&#160;08:00</text>
<text x="1029.2" y="834" textLength="48.99" lengthAdjust="spacingAndGlyphs">21&#160;Jul&#160;16:00</text>
<text x="1093.2" y="834" textLength="48.99" lengthAdjust="spacingAndGlyphs">23&#160;Jul&#160;00:00</text>
<text x="1157.2" y="834" textLength="48.99" lengthAdjust="spacingAndGlyphs">26&#160;Jul&#160;08:00</text>
<text x="1221.2" y="834" textLength="48.99" lengthAdjust="spacingAndGlyphs">27&#160;Jul&#160;16:00</text>
<text x="1285.2" y="834" textLength="48.99" lengthAdjust="spacingAndGlyphs">29&#160;Jul&#160;00:00</text>
</svg></body></html>
